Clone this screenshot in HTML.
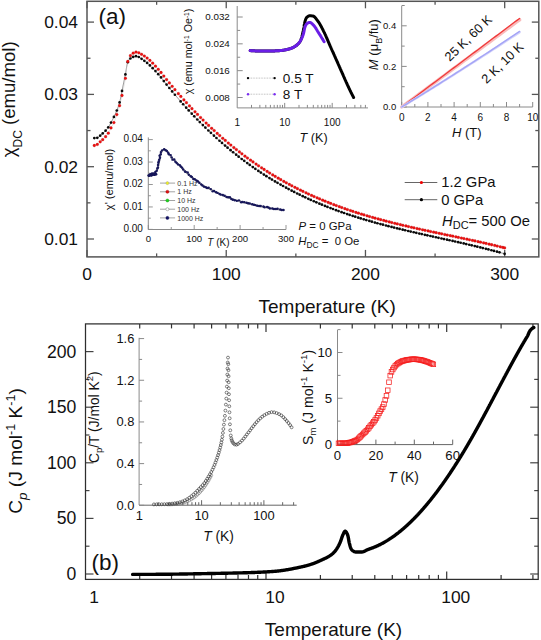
<!DOCTYPE html>
<html><head><meta charset="utf-8"><style>
html,body{margin:0;padding:0;background:#fff;}
svg{display:block;}
text{font-family:"Liberation Sans", sans-serif;}
</style></head><body>
<svg width="541" height="640" viewBox="0 0 541 640">
<rect width="541" height="640" fill="#fff"/>
<line x1="87" y1="256.9" x2="87" y2="249.9" stroke="#555" stroke-width="1.3" />
<line x1="87" y1="1.3" x2="87" y2="8.3" stroke="#555" stroke-width="1.3" />
<line x1="156.62" y1="256.9" x2="156.62" y2="253.4" stroke="#555" stroke-width="1.3" />
<line x1="156.62" y1="1.3" x2="156.62" y2="4.8" stroke="#555" stroke-width="1.3" />
<line x1="226.23" y1="256.9" x2="226.23" y2="249.9" stroke="#555" stroke-width="1.3" />
<line x1="226.23" y1="1.3" x2="226.23" y2="8.3" stroke="#555" stroke-width="1.3" />
<line x1="295.85" y1="256.9" x2="295.85" y2="253.4" stroke="#555" stroke-width="1.3" />
<line x1="295.85" y1="1.3" x2="295.85" y2="4.8" stroke="#555" stroke-width="1.3" />
<line x1="365.46" y1="256.9" x2="365.46" y2="249.9" stroke="#555" stroke-width="1.3" />
<line x1="365.46" y1="1.3" x2="365.46" y2="8.3" stroke="#555" stroke-width="1.3" />
<line x1="435.08" y1="256.9" x2="435.08" y2="253.4" stroke="#555" stroke-width="1.3" />
<line x1="435.08" y1="1.3" x2="435.08" y2="4.8" stroke="#555" stroke-width="1.3" />
<line x1="504.69" y1="256.9" x2="504.69" y2="249.9" stroke="#555" stroke-width="1.3" />
<line x1="504.69" y1="1.3" x2="504.69" y2="8.3" stroke="#555" stroke-width="1.3" />
<line x1="87" y1="239" x2="94" y2="239" stroke="#555" stroke-width="1.3" />
<line x1="538.8" y1="239" x2="531.8" y2="239" stroke="#555" stroke-width="1.3" />
<line x1="87" y1="202.85" x2="90.5" y2="202.85" stroke="#555" stroke-width="1.3" />
<line x1="538.8" y1="202.85" x2="535.3" y2="202.85" stroke="#555" stroke-width="1.3" />
<line x1="87" y1="166.7" x2="94" y2="166.7" stroke="#555" stroke-width="1.3" />
<line x1="538.8" y1="166.7" x2="531.8" y2="166.7" stroke="#555" stroke-width="1.3" />
<line x1="87" y1="130.55" x2="90.5" y2="130.55" stroke="#555" stroke-width="1.3" />
<line x1="538.8" y1="130.55" x2="535.3" y2="130.55" stroke="#555" stroke-width="1.3" />
<line x1="87" y1="94.4" x2="94" y2="94.4" stroke="#555" stroke-width="1.3" />
<line x1="538.8" y1="94.4" x2="531.8" y2="94.4" stroke="#555" stroke-width="1.3" />
<line x1="87" y1="58.25" x2="90.5" y2="58.25" stroke="#555" stroke-width="1.3" />
<line x1="538.8" y1="58.25" x2="535.3" y2="58.25" stroke="#555" stroke-width="1.3" />
<line x1="87" y1="22.1" x2="94" y2="22.1" stroke="#555" stroke-width="1.3" />
<line x1="538.8" y1="22.1" x2="531.8" y2="22.1" stroke="#555" stroke-width="1.3" />
<polyline points="94.3,138.1 95.23,138.07 96.11,137.98 96.95,137.85 97.74,137.63 98.48,137.18 99.19,136.59 99.88,135.97 100.56,135.4 101.21,134.82 101.85,134.21 102.49,133.6 103.14,133.01 103.8,132.42 104.46,131.83 105.1,131.22 105.7,130.59 106.28,129.93 106.85,129.25 107.4,128.56 107.92,127.85 108.42,127.13 108.89,126.39 109.34,125.63 109.78,124.87 110.2,124.09 110.62,123.31 111.03,122.53 111.44,121.75 111.85,120.97 112.25,120.19 112.66,119.41 113.06,118.62 113.46,117.83 113.85,117.04 114.24,116.25 114.62,115.45 115,114.66 115.36,113.86 115.72,113.05 116.08,112.25 116.42,111.44 116.75,110.63 117.07,109.81 117.39,108.99 117.7,108.17 118.01,107.34 118.31,106.51 118.6,105.67 118.88,104.84 119.15,104 119.4,103.15 119.64,102.31 119.86,101.46 120.07,100.61 120.27,99.75 120.45,98.89 120.63,98.03 120.8,97.17 120.97,96.3 121.13,95.44 121.29,94.57 121.46,93.7 121.62,92.83 121.79,91.97 121.96,91.1 122.14,90.24 122.31,89.38 122.49,88.52 122.67,87.65 122.85,86.79 123.03,85.93 123.21,85.07 123.38,84.21 123.56,83.34 123.74,82.48 123.92,81.62 124.1,80.76 124.28,79.89 124.46,79.03 124.63,78.17 124.81,77.31 124.99,76.44 125.16,75.58 125.34,74.72 125.51,73.85 125.66,72.98 125.81,72.09 125.95,71.2 126.09,70.31 126.22,69.42 126.36,68.53 126.5,67.64 126.65,66.76 126.82,65.9 127,65.04 127.2,64.2 127.42,63.38 127.67,62.58 127.96,61.8 128.36,60.99 128.85,60.2 129.41,59.46 130.01,58.83 130.64,58.33 131.35,57.85 132.14,57.39 132.99,56.98 133.86,56.62 134.74,56.36 135.59,56.22 136.4,56.22 137.2,56.37 138,56.65 138.8,57.03 139.6,57.49 140.39,58 141.16,58.54 141.92,59.09 142.66,59.63 143.38,60.12 144.08,60.61 144.78,61.11 145.47,61.63 146.16,62.17 146.83,62.71 147.5,63.28 148.17,63.85 148.83,64.43 149.48,65.03 150.13,65.63 150.77,66.25 151.41,66.87 152.04,67.5 152.67,68.13 153.29,68.78 153.91,69.43 154.52,70.08 155.13,70.73 155.73,71.39 156.33,72.06 156.92,72.72 157.52,73.38 158.1,74.05 158.69,74.71 159.27,75.37 159.85,76.03 160.42,76.69 160.98,77.37 161.52,78.06 162.06,78.76 162.59,79.47 163.12,80.17 163.65,80.88 164.19,81.58 164.74,82.27 165.28,82.96 165.83,83.65 166.38,84.33 166.93,85.02 167.48,85.71 168.04,86.39 168.59,87.08 169.15,87.76 169.7,88.44 170.26,89.12 170.82,89.8 171.38,90.48 171.94,91.16 172.5,91.84 173.06,92.52 173.63,93.19 174.19,93.87 174.76,94.54 175.33,95.21 175.9,95.88 176.47,96.56 177.04,97.23 177.61,97.89 178.19,98.56 178.76,99.23 179.34,99.89 179.91,100.56 180.49,101.22 181.07,101.89 181.65,102.55 182.23,103.21 182.82,103.87 183.4,104.53 183.99,105.18 184.57,105.84 185.16,106.5 185.75,107.15 186.34,107.8 186.93,108.45 187.53,109.11 188.12,109.76 188.72,110.4 189.31,111.05 189.91,111.7 190.51,112.34 191.11,112.99 191.71,113.63 192.31,114.27 192.92,114.91 193.52,115.55 194.13,116.19 194.74,116.83 195.35,117.46 195.96,118.1 196.57,118.73 197.18,119.36 197.8,119.99 198.41,120.62 199.03,121.25 199.64,121.88 200.26,122.51 200.88,123.13 201.51,123.75 202.13,124.38 202.75,125 203.38,125.62 204.01,126.24 204.63,126.85 205.26,127.47 205.89,128.08 206.52,128.7 207.16,129.31 207.79,129.92 208.43,130.53 209.06,131.14 209.7,131.74 210.34,132.35 210.98,132.95 211.63,133.55 212.27,134.15 212.91,134.75 213.56,135.35 214.21,135.95 214.86,136.54 215.51,137.14 216.16,137.73 216.81,138.32 217.46,138.91 218.12,139.5 218.78,140.09 219.43,140.67 220.09,141.25 220.75,141.84 221.42,142.42 222.08,143 222.74,143.57 223.41,144.15 224.08,144.73 224.74,145.3 225.41,145.87 226.08,146.44 226.76,147.01 227.43,147.58 228.1,148.14 228.78,148.71 229.46,149.27 230.14,149.83 230.82,150.39 231.5,150.94 232.18,151.5 232.87,152.06 233.55,152.61 234.24,153.16 234.93,153.71 235.62,154.26 236.31,154.8 237,155.35 237.69,155.89 238.39,156.43 239.08,156.97 239.78,157.51 240.48,158.04 241.18,158.58 241.88,159.11 242.58,159.64 243.28,160.17 243.99,160.7 244.69,161.22 245.4,161.75 246.11,162.27 246.82,162.79 247.53,163.31 248.24,163.83 248.96,164.34 249.67,164.86 250.39,165.37 251.11,165.88 251.83,166.39 252.55,166.89 253.27,167.4 253.99,167.9 254.71,168.4 255.44,168.9 256.17,169.4 256.89,169.89 257.62,170.39 258.35,170.88 259.08,171.37 259.82,171.86 260.55,172.34 261.29,172.83 262.02,173.31 262.76,173.79 263.5,174.27 264.24,174.75 264.98,175.22 265.72,175.7 266.47,176.17 267.21,176.64 267.96,177.11 268.7,177.57 269.45,178.04 270.2,178.5 270.95,178.96 271.7,179.42 272.46,179.87 273.21,180.33 273.97,180.78 274.72,181.23 275.48,181.68 276.24,182.12 277,182.57 277.76,183.01 278.52,183.45 279.29,183.89 280.05,184.33 280.82,184.76 281.58,185.2 282.35,185.63 283.12,186.06 283.89,186.48 284.66,186.91 285.43,187.33 286.21,187.75 286.98,188.17 287.75,188.59 288.53,189.01 289.31,189.42 290.09,189.83 290.87,190.24 291.65,190.65 292.43,191.05 293.21,191.46 293.99,191.86 294.78,192.26 295.56,192.66 296.35,193.05 297.14,193.45 297.93,193.84 298.72,194.23 299.51,194.62 300.3,195 301.09,195.39 301.88,195.77 302.68,196.15 303.47,196.53 304.27,196.9 305.06,197.28 305.86,197.65 306.66,198.02 307.46,198.39 308.26,198.76 309.06,199.12 309.86,199.48 310.67,199.85 311.47,200.2 312.27,200.56 313.08,200.92 313.89,201.27 314.69,201.62 315.5,201.97 316.31,202.32 317.12,202.67 317.93,203.01 318.74,203.35 319.55,203.69 320.37,204.03 321.18,204.37 321.99,204.7 322.81,205.04 323.63,205.37 324.44,205.7 325.26,206.02 326.08,206.35 326.9,206.67 327.72,206.99 328.54,207.31 329.36,207.63 330.18,207.95 331,208.26 331.82,208.58 332.65,208.89 333.47,209.2 334.3,209.51 335.12,209.81 335.95,210.12 336.77,210.42 337.6,210.72 338.43,211.02 339.26,211.32 340.09,211.61 340.92,211.91 341.75,212.2 342.58,212.49 343.41,212.78 344.24,213.07 345.07,213.36 345.91,213.64 346.74,213.92 347.58,214.2 348.41,214.48 349.25,214.76 350.08,215.04 350.92,215.31 351.76,215.59 352.59,215.86 353.43,216.13 354.27,216.4 355.11,216.67 355.95,216.93 356.79,217.2 357.63,217.46 358.47,217.72 359.31,217.98 360.15,218.24 360.99,218.5 361.83,218.75 362.68,219.01 363.52,219.26 364.36,219.51 365.21,219.76 366.05,220.01 366.9,220.26 367.74,220.51 368.59,220.75 369.43,221 370.28,221.24 371.13,221.48 371.97,221.72 372.82,221.96 373.67,222.2 374.52,222.43 375.37,222.67 376.21,222.9 377.06,223.14 377.91,223.37 378.76,223.6 379.61,223.83 380.46,224.06 381.31,224.29 382.16,224.51 383.02,224.74 383.87,224.96 384.72,225.19 385.57,225.41 386.42,225.63 387.28,225.85 388.13,226.07 388.98,226.29 389.83,226.5 390.69,226.72 391.54,226.94 392.39,227.15 393.25,227.36 394.1,227.58 394.96,227.79 395.81,228 396.67,228.21 397.52,228.42 398.38,228.63 399.23,228.84 400.09,229.05 400.94,229.25 401.8,229.46 402.66,229.66 403.51,229.87 404.37,230.07 405.23,230.28 406.08,230.48 406.94,230.68 407.8,230.88 408.65,231.08 409.51,231.28 410.37,231.48 411.23,231.68 412.08,231.88 412.94,232.08 413.8,232.27 414.66,232.47 415.52,232.67 416.38,232.86 417.23,233.06 418.09,233.25 418.95,233.45 419.81,233.64 420.67,233.84 421.53,234.03 422.39,234.23 423.25,234.42 424.1,234.61 424.96,234.8 425.82,235 426.68,235.19 427.54,235.38 428.4,235.57 429.26,235.76 430.12,235.95 430.98,236.15 431.84,236.34 432.7,236.53 433.56,236.72 434.42,236.91 435.28,237.1 436.14,237.29 437,237.48 437.85,237.67 438.71,237.86 439.57,238.05 440.43,238.24 441.29,238.43 442.15,238.62 443.01,238.81 443.87,239 444.73,239.19 445.59,239.39 446.45,239.58 447.31,239.77 448.17,239.96 449.03,240.15 449.89,240.34 450.75,240.53 451.61,240.73 452.47,240.92 453.32,241.11 454.18,241.3 455.04,241.5 455.9,241.69 456.76,241.89 457.62,242.08 458.48,242.27 459.34,242.47 460.19,242.66 461.05,242.86 461.91,243.06 462.77,243.25 463.63,243.45 464.49,243.65 465.34,243.85 466.2,244.05 467.06,244.25 467.92,244.45 468.77,244.65 469.63,244.85 470.49,245.05 471.34,245.25 472.2,245.45 473.06,245.66 473.91,245.86 474.77,246.07 475.63,246.27 476.48,246.48 477.34,246.69 478.19,246.89 479.05,247.1 479.9,247.31 480.76,247.52 481.61,247.73 482.47,247.94 483.32,248.16 484.18,248.37 485.03,248.58 485.88,248.8 486.74,249.02 487.59,249.23 488.44,249.45 489.3,249.67 490.15,249.89 491,250.11 491.85,250.33 492.71,250.56 493.56,250.78 494.41,251 495.26,251.23 496.11,251.46 496.96,251.69 497.81,251.91 498.66,252.15 499.51,252.38 500.36,252.61 501.21,252.84 502.06,253.08 502.9,253.31 503.75,253.55 504.6,253.79" fill="none" stroke="#555" stroke-width="0.65" stroke-linejoin="round" stroke-linecap="round" />
<polyline points="94.3,145.5 95.21,145.3 96.07,145.01 96.89,144.66 97.64,144.26 98.32,143.72 98.96,143.08 99.59,142.4 100.24,141.77 100.92,141.19 101.62,140.62 102.3,140.05 102.96,139.45 103.61,138.82 104.24,138.19 104.86,137.53 105.45,136.87 106.04,136.19 106.61,135.5 107.18,134.8 107.71,134.08 108.21,133.34 108.67,132.58 109.09,131.8 109.49,131 109.88,130.19 110.27,129.37 110.66,128.56 111.08,127.77 111.51,126.99 111.96,126.21 112.41,125.43 112.86,124.65 113.28,123.87 113.68,123.07 114.05,122.26 114.39,121.44 114.72,120.61 115.03,119.77 115.33,118.92 115.63,118.07 115.92,117.22 116.2,116.37 116.49,115.52 116.78,114.68 117.07,113.83 117.35,112.98 117.64,112.13 117.92,111.28 118.19,110.43 118.46,109.57 118.73,108.72 118.98,107.86 119.23,107 119.47,106.14 119.7,105.28 119.93,104.41 120.15,103.54 120.36,102.67 120.57,101.8 120.78,100.93 120.98,100.06 121.18,99.19 121.38,98.31 121.58,97.44 121.77,96.56 121.96,95.69 122.15,94.81 122.34,93.94 122.53,93.06 122.71,92.19 122.9,91.31 123.09,90.44 123.27,89.56 123.45,88.68 123.63,87.8 123.81,86.93 123.98,86.05 124.15,85.17 124.32,84.29 124.49,83.41 124.66,82.53 124.82,81.65 124.98,80.77 125.13,79.89 125.28,79.01 125.43,78.12 125.57,77.24 125.69,76.35 125.81,75.46 125.93,74.56 126.03,73.66 126.14,72.76 126.24,71.86 126.34,70.96 126.44,70.06 126.54,69.17 126.65,68.27 126.76,67.38 126.88,66.49 127.01,65.61 127.15,64.73 127.3,63.86 127.47,63 127.65,62.14 127.85,61.29 128.09,60.43 128.39,59.54 128.73,58.66 129.11,57.8 129.53,57 129.99,56.26 130.47,55.61 131.04,54.97 131.71,54.32 132.47,53.68 133.27,53.1 134.11,52.62 134.95,52.28 135.77,52.11 136.56,52.14 137.38,52.3 138.21,52.57 139.06,52.93 139.91,53.35 140.75,53.82 141.57,54.31 142.37,54.79 143.13,55.26 143.86,55.71 144.59,56.18 145.3,56.67 146.01,57.18 146.71,57.72 147.4,58.27 148.09,58.83 148.76,59.42 149.43,60.02 150.09,60.63 150.75,61.25 151.4,61.89 152.04,62.53 152.68,63.18 153.32,63.85 153.94,64.51 154.57,65.19 155.18,65.86 155.8,66.54 156.41,67.23 157.01,67.91 157.61,68.59 158.21,69.27 158.81,69.95 159.4,70.62 159.99,71.29 160.57,71.96 161.14,72.65 161.69,73.36 162.24,74.07 162.78,74.78 163.33,75.5 163.87,76.21 164.43,76.91 164.99,77.61 165.55,78.31 166.11,79.01 166.67,79.7 167.24,80.4 167.8,81.09 168.37,81.78 168.94,82.48 169.5,83.17 170.07,83.86 170.64,84.55 171.22,85.24 171.79,85.93 172.36,86.61 172.94,87.3 173.52,87.98 174.09,88.67 174.67,89.35 175.25,90.03 175.83,90.71 176.42,91.39 177,92.07 177.58,92.75 178.17,93.43 178.76,94.1 179.35,94.78 179.93,95.45 180.53,96.12 181.12,96.79 181.71,97.46 182.3,98.13 182.9,98.8 183.5,99.47 184.09,100.14 184.69,100.8 185.29,101.47 185.9,102.13 186.5,102.79 187.1,103.45 187.71,104.11 188.31,104.77 188.92,105.43 189.53,106.08 190.14,106.74 190.75,107.39 191.37,108.04 191.98,108.7 192.59,109.35 193.21,109.99 193.83,110.64 194.45,111.29 195.07,111.94 195.69,112.58 196.31,113.22 196.94,113.86 197.56,114.51 198.19,115.14 198.81,115.78 199.44,116.42 200.07,117.06 200.71,117.69 201.34,118.32 201.97,118.95 202.61,119.59 203.24,120.21 203.88,120.84 204.52,121.47 205.16,122.09 205.8,122.72 206.45,123.34 207.09,123.96 207.74,124.58 208.38,125.2 209.03,125.82 209.68,126.43 210.33,127.05 210.99,127.66 211.64,128.27 212.29,128.88 212.95,129.49 213.61,130.1 214.27,130.71 214.93,131.31 215.59,131.92 216.25,132.52 216.91,133.12 217.58,133.72 218.25,134.31 218.91,134.91 219.58,135.51 220.25,136.1 220.93,136.69 221.6,137.28 222.27,137.87 222.95,138.46 223.63,139.04 224.3,139.63 224.98,140.21 225.67,140.79 226.35,141.37 227.03,141.95 227.72,142.52 228.4,143.1 229.09,143.67 229.78,144.24 230.47,144.81 231.16,145.38 231.85,145.95 232.55,146.51 233.24,147.08 233.94,147.64 234.64,148.2 235.34,148.76 236.04,149.31 236.74,149.87 237.45,150.42 238.15,150.97 238.86,151.52 239.56,152.07 240.27,152.62 240.98,153.16 241.69,153.71 242.41,154.25 243.12,154.79 243.84,155.33 244.55,155.87 245.27,156.4 245.99,156.93 246.71,157.46 247.43,157.99 248.15,158.52 248.88,159.05 249.6,159.57 250.33,160.1 251.06,160.62 251.79,161.14 252.52,161.65 253.25,162.17 253.98,162.68 254.72,163.19 255.45,163.7 256.19,164.21 256.93,164.72 257.67,165.22 258.41,165.72 259.15,166.23 259.89,166.72 260.64,167.22 261.39,167.72 262.13,168.21 262.88,168.7 263.63,169.19 264.38,169.68 265.13,170.16 265.89,170.65 266.64,171.13 267.4,171.61 268.15,172.09 268.91,172.56 269.67,173.04 270.43,173.51 271.19,173.98 271.95,174.45 272.72,174.92 273.48,175.38 274.25,175.84 275.02,176.31 275.79,176.76 276.56,177.22 277.33,177.68 278.1,178.13 278.87,178.58 279.65,179.03 280.42,179.48 281.2,179.92 281.98,180.37 282.75,180.81 283.53,181.25 284.32,181.68 285.1,182.12 285.88,182.55 286.67,182.98 287.45,183.41 288.24,183.84 289.02,184.27 289.81,184.69 290.6,185.11 291.39,185.53 292.19,185.95 292.98,186.36 293.77,186.78 294.57,187.19 295.36,187.6 296.16,188.01 296.96,188.41 297.76,188.82 298.56,189.22 299.36,189.62 300.16,190.02 300.96,190.41 301.77,190.8 302.57,191.2 303.38,191.59 304.18,191.97 304.99,192.36 305.8,192.74 306.61,193.13 307.42,193.51 308.23,193.88 309.05,194.26 309.86,194.63 310.67,195.01 311.49,195.38 312.3,195.75 313.12,196.11 313.94,196.48 314.76,196.84 315.58,197.2 316.4,197.56 317.22,197.91 318.04,198.27 318.86,198.62 319.69,198.97 320.51,199.32 321.34,199.67 322.16,200.01 322.99,200.36 323.82,200.7 324.64,201.04 325.47,201.37 326.3,201.71 327.13,202.04 327.96,202.38 328.8,202.71 329.63,203.03 330.46,203.36 331.3,203.69 332.13,204.01 332.97,204.33 333.8,204.65 334.64,204.97 335.48,205.28 336.32,205.6 337.16,205.91 338,206.22 338.84,206.53 339.68,206.83 340.52,207.14 341.36,207.44 342.2,207.74 343.05,208.04 343.89,208.34 344.74,208.64 345.58,208.93 346.43,209.22 347.28,209.51 348.12,209.8 348.97,210.09 349.82,210.38 350.67,210.66 351.52,210.95 352.37,211.23 353.22,211.51 354.07,211.78 354.92,212.06 355.77,212.34 356.62,212.61 357.48,212.88 358.33,213.15 359.18,213.42 360.04,213.69 360.89,213.95 361.75,214.22 362.6,214.48 363.46,214.74 364.32,215 365.17,215.26 366.03,215.51 366.89,215.77 367.75,216.02 368.61,216.28 369.47,216.53 370.33,216.78 371.19,217.02 372.05,217.27 372.91,217.52 373.77,217.76 374.63,218 375.49,218.25 376.35,218.49 377.22,218.72 378.08,218.96 378.94,219.2 379.81,219.43 380.67,219.67 381.54,219.9 382.4,220.13 383.27,220.36 384.13,220.59 385,220.82 385.86,221.05 386.73,221.27 387.6,221.5 388.46,221.72 389.33,221.94 390.2,222.17 391.06,222.39 391.93,222.6 392.8,222.82 393.67,223.04 394.54,223.26 395.41,223.47 396.28,223.69 397.14,223.9 398.01,224.11 398.88,224.32 399.75,224.53 400.62,224.74 401.5,224.95 402.37,225.16 403.24,225.37 404.11,225.57 404.98,225.78 405.85,225.98 406.72,226.19 407.59,226.39 408.47,226.59 409.34,226.79 410.21,226.99 411.08,227.19 411.96,227.39 412.83,227.59 413.7,227.79 414.58,227.99 415.45,228.18 416.32,228.38 417.2,228.58 418.07,228.77 418.94,228.96 419.82,229.16 420.69,229.35 421.57,229.54 422.44,229.74 423.31,229.93 424.19,230.12 425.06,230.31 425.94,230.5 426.81,230.69 427.69,230.88 428.56,231.07 429.44,231.26 430.31,231.45 431.19,231.63 432.06,231.82 432.94,232.01 433.81,232.2 434.69,232.38 435.57,232.57 436.44,232.76 437.32,232.94 438.19,233.13 439.07,233.31 439.94,233.5 440.82,233.68 441.7,233.87 442.57,234.05 443.45,234.24 444.32,234.42 445.2,234.61 446.07,234.79 446.95,234.98 447.83,235.16 448.7,235.35 449.58,235.53 450.45,235.72 451.33,235.9 452.21,236.09 453.08,236.27 453.96,236.46 454.83,236.64 455.71,236.83 456.59,237.01 457.46,237.2 458.34,237.38 459.21,237.57 460.09,237.76 460.96,237.94 461.84,238.13 462.71,238.31 463.59,238.5 464.47,238.69 465.34,238.88 466.22,239.06 467.09,239.25 467.97,239.44 468.84,239.63 469.72,239.82 470.59,240.01 471.47,240.2 472.34,240.39 473.22,240.58 474.09,240.77 474.96,240.96 475.84,241.16 476.71,241.35 477.59,241.54 478.46,241.74 479.33,241.93 480.21,242.13 481.08,242.32 481.95,242.52 482.83,242.72 483.7,242.91 484.57,243.11 485.45,243.31 486.32,243.51 487.19,243.71 488.06,243.91 488.94,244.12 489.81,244.32 490.68,244.52 491.55,244.73 492.42,244.93 493.29,245.14 494.16,245.34 495.04,245.55 495.91,245.76 496.78,245.97 497.65,246.18 498.52,246.39 499.39,246.6 500.26,246.81 501.13,247.03 501.99,247.24 502.86,247.46 503.73,247.68 504.6,247.89" fill="none" stroke="#c8c8c8" stroke-width="0.5" stroke-linejoin="round" stroke-linecap="round" />
<g fill="#0a0a0a"><circle cx="94.3" cy="138.1" r="1.35"/><circle cx="97.3" cy="137.78" r="1.35"/><circle cx="100.2" cy="135.7" r="1.35"/><circle cx="102.7" cy="133.41" r="1.35"/><circle cx="105.6" cy="130.7" r="1.35"/><circle cx="108.3" cy="127.3" r="1.35"/><circle cx="111" cy="122.59" r="1.35"/><circle cx="113.9" cy="116.94" r="1.35"/><circle cx="116.8" cy="110.5" r="1.35"/><circle cx="119.6" cy="102.45" r="1.35"/><circle cx="122" cy="90.9" r="1.35"/><circle cx="125.4" cy="74.4" r="1.35"/><circle cx="127.8" cy="62.2" r="1.35"/><circle cx="130.4" cy="58.5" r="1.35"/><circle cx="133.2" cy="56.88" r="1.35"/><circle cx="136" cy="56.2" r="1.35"/><circle cx="138.78" cy="57.02" r="1.35"/><circle cx="141.56" cy="58.83" r="1.35"/><circle cx="144.34" cy="60.79" r="1.35"/><circle cx="147.12" cy="62.95" r="1.35"/><circle cx="149.9" cy="65.42" r="1.35"/><circle cx="152.68" cy="68.15" r="1.35"/><circle cx="155.46" cy="71.1" r="1.35"/><circle cx="158.24" cy="74.2" r="1.35"/><circle cx="161.02" cy="77.43" r="1.35"/><circle cx="163.8" cy="81.07" r="1.35"/><circle cx="166.58" cy="84.58" r="1.35"/><circle cx="169.36" cy="88.02" r="1.35"/><circle cx="172.14" cy="91.4" r="1.35"/><circle cx="174.92" cy="94.73" r="1.35"/><circle cx="180.65" cy="101.4" r="1.35"/><circle cx="183.15" cy="104.24" r="1.35"/><circle cx="186.2" cy="107.65" r="1.35"/><circle cx="188.7" cy="110.39" r="1.35"/><circle cx="191.75" cy="113.67" r="1.35"/><circle cx="194.25" cy="116.32" r="1.35"/><circle cx="197.3" cy="119.49" r="1.35"/><circle cx="199.8" cy="122.04" r="1.35"/><circle cx="202.85" cy="125.09" r="1.35"/><circle cx="205.35" cy="127.55" r="1.35"/><circle cx="208.4" cy="130.5" r="1.35"/><circle cx="210.9" cy="132.87" r="1.35"/><circle cx="213.95" cy="135.71" r="1.35"/><circle cx="216.45" cy="138" r="1.35"/><circle cx="219.5" cy="140.73" r="1.35"/><circle cx="222" cy="142.93" r="1.35"/><circle cx="225.05" cy="145.56" r="1.35"/><circle cx="227.55" cy="147.68" r="1.35"/><circle cx="230.6" cy="150.21" r="1.35"/><circle cx="233.1" cy="152.24" r="1.35"/><circle cx="236.15" cy="154.68" r="1.35"/><circle cx="238.65" cy="156.64" r="1.35"/><circle cx="241.7" cy="158.98" r="1.35"/><circle cx="244.2" cy="160.86" r="1.35"/><circle cx="247.25" cy="163.11" r="1.35"/><circle cx="249.75" cy="164.91" r="1.35"/><circle cx="252.8" cy="167.07" r="1.35"/><circle cx="255.3" cy="168.81" r="1.35"/><circle cx="258.35" cy="170.88" r="1.35"/><circle cx="260.85" cy="172.54" r="1.35"/><circle cx="263.9" cy="174.53" r="1.35"/><circle cx="266.4" cy="176.13" r="1.35"/><circle cx="269.45" cy="178.03" r="1.35"/><circle cx="271.95" cy="179.56" r="1.35"/><circle cx="275" cy="181.39" r="1.35"/><circle cx="277.5" cy="182.86" r="1.35"/><circle cx="280.55" cy="184.61" r="1.35"/><circle cx="283.05" cy="186.02" r="1.35"/><circle cx="286.1" cy="187.7" r="1.35"/><circle cx="288.6" cy="189.04" r="1.35"/><circle cx="291.65" cy="190.65" r="1.35"/><circle cx="294.15" cy="191.94" r="1.35"/><circle cx="297.2" cy="193.48" r="1.35"/><circle cx="299.7" cy="194.71" r="1.35"/><circle cx="302.75" cy="196.18" r="1.35"/><circle cx="305.25" cy="197.37" r="1.35"/><circle cx="308.3" cy="198.78" r="1.35"/><circle cx="310.8" cy="199.91" r="1.35"/><circle cx="313.85" cy="201.25" r="1.35"/><circle cx="316.35" cy="202.34" r="1.35"/><circle cx="319.4" cy="203.63" r="1.35"/><circle cx="321.9" cy="204.66" r="1.35"/><circle cx="324.95" cy="205.9" r="1.35"/><circle cx="327.45" cy="206.89" r="1.35"/><circle cx="330.5" cy="208.07" r="1.35"/><circle cx="333" cy="209.02" r="1.35"/><circle cx="336.05" cy="210.16" r="1.35"/><circle cx="338.55" cy="211.06" r="1.35"/><circle cx="341.6" cy="212.15" r="1.35"/><circle cx="344.1" cy="213.02" r="1.35"/><circle cx="347.15" cy="214.06" r="1.35"/><circle cx="349.65" cy="214.9" r="1.35"/><circle cx="352.7" cy="215.89" r="1.35"/><circle cx="355.2" cy="216.7" r="1.35"/><circle cx="358.25" cy="217.65" r="1.35"/><circle cx="360.75" cy="218.42" r="1.35"/><circle cx="363.8" cy="219.35" r="1.35"/><circle cx="366.3" cy="220.09" r="1.35"/><circle cx="369.35" cy="220.97" r="1.35"/><circle cx="371.85" cy="221.69" r="1.35"/><circle cx="374.9" cy="222.54" r="1.35"/><circle cx="377.4" cy="223.23" r="1.35"/><circle cx="380.45" cy="224.05" r="1.35"/><circle cx="382.95" cy="224.72" r="1.35"/><circle cx="386" cy="225.52" r="1.35"/><circle cx="388.5" cy="226.16" r="1.35"/><circle cx="391.55" cy="226.94" r="1.35"/><circle cx="394.05" cy="227.56" r="1.35"/><circle cx="397.1" cy="228.32" r="1.35"/><circle cx="399.6" cy="228.93" r="1.35"/><circle cx="402.65" cy="229.66" r="1.35"/><circle cx="405.15" cy="230.26" r="1.35"/><circle cx="408.2" cy="230.98" r="1.35"/><circle cx="410.7" cy="231.56" r="1.35"/><circle cx="413.75" cy="232.26" r="1.35"/><circle cx="416.25" cy="232.84" r="1.35"/><circle cx="419.3" cy="233.53" r="1.35"/><circle cx="421.8" cy="234.09" r="1.35"/><circle cx="424.85" cy="234.78" r="1.35"/><circle cx="427.35" cy="235.34" r="1.35"/><circle cx="430.4" cy="236.02" r="1.35"/><circle cx="432.9" cy="236.57" r="1.35"/><circle cx="435.95" cy="237.25" r="1.35"/><circle cx="438.45" cy="237.8" r="1.35"/><circle cx="441.5" cy="238.48" r="1.35"/><circle cx="444" cy="239.03" r="1.35"/><circle cx="447.05" cy="239.71" r="1.35"/><circle cx="449.55" cy="240.27" r="1.35"/><circle cx="452.6" cy="240.95" r="1.35"/><circle cx="455.1" cy="241.51" r="1.35"/><circle cx="458.15" cy="242.2" r="1.35"/><circle cx="460.65" cy="242.77" r="1.35"/><circle cx="463.7" cy="243.47" r="1.35"/><circle cx="466.2" cy="244.05" r="1.35"/><circle cx="469.25" cy="244.76" r="1.35"/><circle cx="471.75" cy="245.35" r="1.35"/><circle cx="474.8" cy="246.07" r="1.35"/><circle cx="477.3" cy="246.68" r="1.35"/><circle cx="480.35" cy="247.42" r="1.35"/><circle cx="482.85" cy="248.04" r="1.35"/><circle cx="485.9" cy="248.8" r="1.35"/><circle cx="488.4" cy="249.44" r="1.35"/><circle cx="491.45" cy="250.23" r="1.35"/><circle cx="493.95" cy="250.88" r="1.35"/><circle cx="497" cy="251.7" r="1.35"/><circle cx="499.5" cy="252.37" r="1.35"/><circle cx="504.6" cy="253.79" r="1.35"/></g>
<g fill="#f01010" stroke="#a00" stroke-width="0.25"><circle cx="94.3" cy="145.5" r="1.38"/><circle cx="97.3" cy="144.45" r="1.38"/><circle cx="100.2" cy="141.8" r="1.38"/><circle cx="102.7" cy="139.69" r="1.38"/><circle cx="105.6" cy="136.7" r="1.38"/><circle cx="108.3" cy="133.2" r="1.38"/><circle cx="111" cy="127.91" r="1.38"/><circle cx="113.9" cy="122.6" r="1.38"/><circle cx="116.8" cy="114.61" r="1.38"/><circle cx="119.6" cy="105.66" r="1.38"/><circle cx="122" cy="95.5" r="1.38"/><circle cx="125.4" cy="78.3" r="1.38"/><circle cx="127.8" cy="61.5" r="1.38"/><circle cx="130.4" cy="55.7" r="1.38"/><circle cx="133.2" cy="53.15" r="1.38"/><circle cx="136" cy="52.1" r="1.38"/><circle cx="138.78" cy="52.8" r="1.38"/><circle cx="141.56" cy="54.3" r="1.38"/><circle cx="144.34" cy="56.01" r="1.38"/><circle cx="147.12" cy="58.04" r="1.38"/><circle cx="149.9" cy="60.45" r="1.38"/><circle cx="152.68" cy="63.18" r="1.38"/><circle cx="155.46" cy="66.17" r="1.38"/><circle cx="158.24" cy="69.3" r="1.38"/><circle cx="161.02" cy="72.5" r="1.38"/><circle cx="163.8" cy="76.11" r="1.38"/><circle cx="166.58" cy="79.59" r="1.38"/><circle cx="169.36" cy="82.99" r="1.38"/><circle cx="172.14" cy="86.34" r="1.38"/><circle cx="174.92" cy="89.64" r="1.38"/><circle cx="178.35" cy="93.63" r="1.38"/><circle cx="180.85" cy="96.49" r="1.38"/><circle cx="183.9" cy="99.92" r="1.38"/><circle cx="186.4" cy="102.68" r="1.38"/><circle cx="189.45" cy="105.99" r="1.38"/><circle cx="191.95" cy="108.66" r="1.38"/><circle cx="195" cy="111.87" r="1.38"/><circle cx="197.5" cy="114.44" r="1.38"/><circle cx="200.55" cy="117.53" r="1.38"/><circle cx="203.05" cy="120.02" r="1.38"/><circle cx="206.1" cy="123.01" r="1.38"/><circle cx="208.6" cy="125.41" r="1.38"/><circle cx="211.65" cy="128.28" r="1.38"/><circle cx="214.15" cy="130.6" r="1.38"/><circle cx="217.2" cy="133.38" r="1.38"/><circle cx="219.7" cy="135.61" r="1.38"/><circle cx="222.75" cy="138.28" r="1.38"/><circle cx="225.25" cy="140.43" r="1.38"/><circle cx="228.3" cy="143.01" r="1.38"/><circle cx="230.8" cy="145.08" r="1.38"/><circle cx="233.85" cy="147.56" r="1.38"/><circle cx="236.35" cy="149.56" r="1.38"/><circle cx="239.4" cy="151.95" r="1.38"/><circle cx="241.9" cy="153.87" r="1.38"/><circle cx="244.95" cy="156.16" r="1.38"/><circle cx="247.45" cy="158.01" r="1.38"/><circle cx="250.5" cy="160.22" r="1.38"/><circle cx="253" cy="161.99" r="1.38"/><circle cx="256.05" cy="164.11" r="1.38"/><circle cx="258.55" cy="165.82" r="1.38"/><circle cx="261.6" cy="167.86" r="1.38"/><circle cx="264.1" cy="169.5" r="1.38"/><circle cx="267.15" cy="171.45" r="1.38"/><circle cx="269.65" cy="173.03" r="1.38"/><circle cx="272.7" cy="174.91" r="1.38"/><circle cx="275.2" cy="176.42" r="1.38"/><circle cx="278.25" cy="178.22" r="1.38"/><circle cx="280.75" cy="179.67" r="1.38"/><circle cx="283.8" cy="181.4" r="1.38"/><circle cx="286.3" cy="182.78" r="1.38"/><circle cx="289.35" cy="184.44" r="1.38"/><circle cx="291.85" cy="185.77" r="1.38"/><circle cx="294.9" cy="187.36" r="1.38"/><circle cx="297.4" cy="188.64" r="1.38"/><circle cx="300.45" cy="190.16" r="1.38"/><circle cx="302.95" cy="191.38" r="1.38"/><circle cx="306" cy="192.84" r="1.38"/><circle cx="308.5" cy="194.01" r="1.38"/><circle cx="311.55" cy="195.4" r="1.38"/><circle cx="314.05" cy="196.53" r="1.38"/><circle cx="317.1" cy="197.86" r="1.38"/><circle cx="319.6" cy="198.94" r="1.38"/><circle cx="322.65" cy="200.22" r="1.38"/><circle cx="325.15" cy="201.24" r="1.38"/><circle cx="328.2" cy="202.47" r="1.38"/><circle cx="330.7" cy="203.45" r="1.38"/><circle cx="333.75" cy="204.63" r="1.38"/><circle cx="336.25" cy="205.57" r="1.38"/><circle cx="339.3" cy="206.7" r="1.38"/><circle cx="341.8" cy="207.6" r="1.38"/><circle cx="344.85" cy="208.68" r="1.38"/><circle cx="347.35" cy="209.54" r="1.38"/><circle cx="350.4" cy="210.57" r="1.38"/><circle cx="352.9" cy="211.4" r="1.38"/><circle cx="355.95" cy="212.39" r="1.38"/><circle cx="358.45" cy="213.19" r="1.38"/><circle cx="361.5" cy="214.14" r="1.38"/><circle cx="364" cy="214.9" r="1.38"/><circle cx="367.05" cy="215.82" r="1.38"/><circle cx="369.55" cy="216.55" r="1.38"/><circle cx="372.6" cy="217.43" r="1.38"/><circle cx="375.1" cy="218.14" r="1.38"/><circle cx="378.15" cy="218.98" r="1.38"/><circle cx="380.65" cy="219.66" r="1.38"/><circle cx="383.7" cy="220.48" r="1.38"/><circle cx="386.2" cy="221.14" r="1.38"/><circle cx="389.25" cy="221.92" r="1.38"/><circle cx="391.75" cy="222.56" r="1.38"/><circle cx="394.8" cy="223.32" r="1.38"/><circle cx="397.3" cy="223.94" r="1.38"/><circle cx="400.35" cy="224.68" r="1.38"/><circle cx="402.85" cy="225.27" r="1.38"/><circle cx="405.9" cy="225.99" r="1.38"/><circle cx="408.4" cy="226.58" r="1.38"/><circle cx="411.45" cy="227.28" r="1.38"/><circle cx="413.95" cy="227.85" r="1.38"/><circle cx="417" cy="228.53" r="1.38"/><circle cx="419.5" cy="229.09" r="1.38"/><circle cx="422.55" cy="229.76" r="1.38"/><circle cx="425.05" cy="230.31" r="1.38"/><circle cx="428.1" cy="230.97" r="1.38"/><circle cx="430.6" cy="231.51" r="1.38"/><circle cx="433.65" cy="232.16" r="1.38"/><circle cx="436.15" cy="232.69" r="1.38"/><circle cx="439.2" cy="233.34" r="1.38"/><circle cx="441.7" cy="233.87" r="1.38"/><circle cx="444.75" cy="234.51" r="1.38"/><circle cx="447.25" cy="235.04" r="1.38"/><circle cx="450.3" cy="235.69" r="1.38"/><circle cx="452.8" cy="236.21" r="1.38"/><circle cx="455.85" cy="236.86" r="1.38"/><circle cx="458.35" cy="237.39" r="1.38"/><circle cx="461.4" cy="238.03" r="1.38"/><circle cx="463.9" cy="238.57" r="1.38"/><circle cx="466.95" cy="239.22" r="1.38"/><circle cx="469.45" cy="239.76" r="1.38"/><circle cx="472.5" cy="240.43" r="1.38"/><circle cx="475" cy="240.97" r="1.38"/><circle cx="478.05" cy="241.65" r="1.38"/><circle cx="480.55" cy="242.2" r="1.38"/><circle cx="483.6" cy="242.89" r="1.38"/><circle cx="486.1" cy="243.46" r="1.38"/><circle cx="489.15" cy="244.17" r="1.38"/><circle cx="491.65" cy="244.75" r="1.38"/><circle cx="494.7" cy="245.47" r="1.38"/><circle cx="497.2" cy="246.07" r="1.38"/><circle cx="500.25" cy="246.81" r="1.38"/><circle cx="502.75" cy="247.43" r="1.38"/><circle cx="504.6" cy="247.89" r="1.38"/></g>
<rect x="87" y="1.3" width="451.8" height="255.6" fill="none" stroke="#555" stroke-width="1.5"/>
<text x="78" y="244.99" font-size="17.4" text-anchor="end" fill="#111" >0.01</text>
<text x="78" y="172.69" font-size="17.4" text-anchor="end" fill="#111" >0.02</text>
<text x="78" y="100.39" font-size="17.4" text-anchor="end" fill="#111" >0.03</text>
<text x="78" y="28.09" font-size="17.4" text-anchor="end" fill="#111" >0.04</text>
<text x="87" y="280" font-size="17.4" text-anchor="middle" fill="#111" >0</text>
<text x="226.23" y="280" font-size="17.4" text-anchor="middle" fill="#111" >100</text>
<text x="365.46" y="280" font-size="17.4" text-anchor="middle" fill="#111" >200</text>
<text x="504.69" y="280" font-size="17.4" text-anchor="middle" fill="#111" >300</text>
<text x="327.2" y="313.4" font-size="19" text-anchor="middle" fill="#111" >Temperature (K)</text>
<text x="15.2" y="99.3" font-size="18.6" text-anchor="middle" fill="#111" transform="rotate(-90 15.2 99.3)" >&#967;<tspan font-size="12" dy="7.2">DC</tspan><tspan dy="-7.2"> (emu/mol)</tspan></text>
<text x="98.5" y="24.2" font-size="22.5" text-anchor="start" fill="#111" >(a)</text>
<line x1="404.7" y1="182.5" x2="437.3" y2="182.5" stroke="#666" stroke-width="1" />
<circle cx="421.4" cy="182.5" r="1.6" fill="#e00"/>
<text x="441.2" y="187.3" font-size="14.8" text-anchor="start" fill="#111" >1.2 GPa</text>
<line x1="404.7" y1="199.7" x2="437.3" y2="199.7" stroke="#666" stroke-width="1" />
<circle cx="421.4" cy="199.7" r="1.6" fill="#000"/>
<text x="441.2" y="204.5" font-size="14.8" text-anchor="start" fill="#111" >0 GPa</text>
<text x="442" y="225.5" font-size="14.8" text-anchor="start" fill="#111" ><tspan font-style="italic">H</tspan><tspan font-size="11" dy="3.8">DC</tspan><tspan dy="-3.8">= 500 Oe</tspan></text>
<text x="298.6" y="230" font-size="11.4" text-anchor="start" fill="#111" ><tspan font-style="italic">P</tspan> = 0 GPa</text>
<text x="298.2" y="244.7" font-size="11.4" text-anchor="start" fill="#111" ><tspan font-style="italic">H</tspan><tspan font-size="8.4" dy="3.1">DC</tspan><tspan dy="-3.1" xml:space="preserve"> =  0 Oe</tspan></text>
<line x1="237.2" y1="6" x2="237.2" y2="107.9" stroke="#8a8a8a" stroke-width="1" />
<line x1="237.2" y1="107.9" x2="368" y2="107.9" stroke="#8a8a8a" stroke-width="1" />
<line x1="237.2" y1="97.49" x2="242.7" y2="97.49" stroke="#8a8a8a" stroke-width="1" />
<line x1="237.2" y1="84.07" x2="240.2" y2="84.07" stroke="#8a8a8a" stroke-width="1" />
<line x1="237.2" y1="70.66" x2="242.7" y2="70.66" stroke="#8a8a8a" stroke-width="1" />
<line x1="237.2" y1="57.24" x2="240.2" y2="57.24" stroke="#8a8a8a" stroke-width="1" />
<line x1="237.2" y1="43.83" x2="242.7" y2="43.83" stroke="#8a8a8a" stroke-width="1" />
<line x1="237.2" y1="30.41" x2="240.2" y2="30.41" stroke="#8a8a8a" stroke-width="1" />
<line x1="237.2" y1="17" x2="242.7" y2="17" stroke="#8a8a8a" stroke-width="1" />
<line x1="251.5" y1="107.9" x2="251.5" y2="104.9" stroke="#8a8a8a" stroke-width="1" />
<line x1="259.86" y1="107.9" x2="259.86" y2="104.9" stroke="#8a8a8a" stroke-width="1" />
<line x1="265.8" y1="107.9" x2="265.8" y2="104.9" stroke="#8a8a8a" stroke-width="1" />
<line x1="270.4" y1="107.9" x2="270.4" y2="104.9" stroke="#8a8a8a" stroke-width="1" />
<line x1="274.16" y1="107.9" x2="274.16" y2="104.9" stroke="#8a8a8a" stroke-width="1" />
<line x1="277.34" y1="107.9" x2="277.34" y2="104.9" stroke="#8a8a8a" stroke-width="1" />
<line x1="280.1" y1="107.9" x2="280.1" y2="104.9" stroke="#8a8a8a" stroke-width="1" />
<line x1="282.53" y1="107.9" x2="282.53" y2="104.9" stroke="#8a8a8a" stroke-width="1" />
<line x1="284.7" y1="107.9" x2="284.7" y2="102.9" stroke="#8a8a8a" stroke-width="1" />
<line x1="299" y1="107.9" x2="299" y2="104.9" stroke="#8a8a8a" stroke-width="1" />
<line x1="307.36" y1="107.9" x2="307.36" y2="104.9" stroke="#8a8a8a" stroke-width="1" />
<line x1="313.3" y1="107.9" x2="313.3" y2="104.9" stroke="#8a8a8a" stroke-width="1" />
<line x1="317.9" y1="107.9" x2="317.9" y2="104.9" stroke="#8a8a8a" stroke-width="1" />
<line x1="321.66" y1="107.9" x2="321.66" y2="104.9" stroke="#8a8a8a" stroke-width="1" />
<line x1="324.84" y1="107.9" x2="324.84" y2="104.9" stroke="#8a8a8a" stroke-width="1" />
<line x1="327.6" y1="107.9" x2="327.6" y2="104.9" stroke="#8a8a8a" stroke-width="1" />
<line x1="330.03" y1="107.9" x2="330.03" y2="104.9" stroke="#8a8a8a" stroke-width="1" />
<line x1="332.2" y1="107.9" x2="332.2" y2="102.9" stroke="#8a8a8a" stroke-width="1" />
<line x1="346.5" y1="107.9" x2="346.5" y2="104.9" stroke="#8a8a8a" stroke-width="1" />
<line x1="354.86" y1="107.9" x2="354.86" y2="104.9" stroke="#8a8a8a" stroke-width="1" />
<line x1="360.8" y1="107.9" x2="360.8" y2="104.9" stroke="#8a8a8a" stroke-width="1" />
<line x1="365.4" y1="107.9" x2="365.4" y2="104.9" stroke="#8a8a8a" stroke-width="1" />
<text x="229.8" y="20.37" font-size="9.8" text-anchor="end" fill="#111" >0.032</text>
<text x="229.8" y="47.2" font-size="9.8" text-anchor="end" fill="#111" >0.024</text>
<text x="229.8" y="74.03" font-size="9.8" text-anchor="end" fill="#111" >0.016</text>
<text x="229.8" y="100.86" font-size="9.8" text-anchor="end" fill="#111" >0.008</text>
<text x="237.2" y="126.04" font-size="10" text-anchor="middle" fill="#111" >1</text>
<text x="284.7" y="126.04" font-size="10" text-anchor="middle" fill="#111" >10</text>
<text x="332.2" y="126.04" font-size="10" text-anchor="middle" fill="#111" >100</text>
<text x="313.6" y="142.4" font-size="12.6" text-anchor="middle" fill="#111" ><tspan font-style="italic">T</tspan> (K)</text>
<text x="192" y="51.5" font-size="10.7" text-anchor="middle" fill="#111" transform="rotate(-90 192 51.5)" >&#967; (emu mol<tspan font-size="6.5" dy="-3.5">-1</tspan><tspan dy="3.5"> Oe</tspan><tspan font-size="6.5" dy="-3.5">-1</tspan><tspan dy="3.5">)</tspan></text>
<polyline points="250.2,50.6 250.55,50.62 250.9,50.64 251.25,50.66 251.61,50.69 251.96,50.71 252.31,50.73 252.66,50.75 253.01,50.77 253.36,50.79 253.72,50.81 254.07,50.82 254.42,50.84 254.77,50.86 255.12,50.88 255.47,50.89 255.83,50.91 256.18,50.92 256.53,50.93 256.88,50.95 257.23,50.96 257.59,50.97 257.94,50.98 258.29,50.98 258.64,50.99 258.99,50.99 259.34,51 259.7,51 260.05,51 260.4,51 260.75,51 261.1,51 261.46,51 261.81,51 262.16,51 262.51,51 262.86,51 263.22,51 263.57,51 263.92,51 264.27,51 264.62,51 264.98,51 265.33,51 265.68,51 266.03,51 266.38,51 266.74,51 267.09,51 267.44,51 267.79,51 268.14,51 268.5,51 268.85,51 269.2,51 269.55,51 269.9,51 270.26,51 270.61,51 270.96,51 271.31,50.99 271.66,50.99 272.02,50.98 272.37,50.97 272.72,50.96 273.08,50.95 273.43,50.94 273.78,50.93 274.13,50.92 274.49,50.9 274.84,50.89 275.19,50.87 275.54,50.86 275.89,50.84 276.25,50.82 276.6,50.81 276.95,50.79 277.3,50.77 277.65,50.75 278,50.73 278.35,50.7 278.7,50.68 279.05,50.66 279.4,50.64 279.75,50.62 280.1,50.59 280.45,50.57 280.8,50.54 281.15,50.5 281.5,50.47 281.86,50.43 282.21,50.38 282.56,50.34 282.91,50.29 283.26,50.23 283.61,50.18 283.96,50.12 284.31,50.06 284.66,50 285.01,49.93 285.36,49.86 285.71,49.79 286.06,49.72 286.4,49.64 286.75,49.56 287.09,49.49 287.43,49.4 287.77,49.32 288.11,49.24 288.45,49.15 288.79,49.06 289.12,48.98 289.45,48.89 289.78,48.79 290.12,48.69 290.45,48.58 290.79,48.46 291.12,48.33 291.46,48.2 291.79,48.07 292.12,47.92 292.45,47.78 292.78,47.62 293.1,47.46 293.42,47.3 293.74,47.13 294.05,46.96 294.36,46.79 294.66,46.61 294.95,46.43 295.24,46.24 295.52,46.05 295.8,45.86 296.07,45.66 296.35,45.45 296.63,45.23 296.91,45 297.19,44.77 297.46,44.52 297.73,44.27 298,44.02 298.26,43.75 298.51,43.49 298.76,43.21 299,42.94 299.23,42.66 299.44,42.38 299.65,42.09 299.84,41.8 300.02,41.51 300.18,41.23 300.33,40.94 300.47,40.64 300.61,40.34 300.74,40.04 300.86,39.73 300.99,39.41 301.11,39.09 301.22,38.77 301.33,38.44 301.44,38.11 301.55,37.77 301.65,37.43 301.75,37.09 301.84,36.74 301.94,36.4 302.03,36.05 302.12,35.7 302.21,35.34 302.29,34.99 302.38,34.64 302.46,34.28 302.54,33.93 302.62,33.57 302.7,33.22 302.78,32.87 302.86,32.51 302.94,32.16 303.02,31.81 303.09,31.47 303.17,31.12 303.25,30.78 303.32,30.44 303.39,30.09 303.46,29.75 303.53,29.4 303.59,29.05 303.65,28.7 303.71,28.36 303.77,28.01 303.83,27.66 303.88,27.31 303.94,26.96 303.99,26.61 304.05,26.26 304.1,25.91 304.16,25.56 304.22,25.21 304.28,24.86 304.34,24.51 304.4,24.17 304.47,23.82 304.53,23.48 304.61,23.13 304.68,22.79 304.76,22.45 304.84,22.11 304.93,21.78 305.02,21.44 305.11,21.1 305.21,20.75 305.32,20.39 305.43,20.03 305.55,19.68 305.68,19.33 305.82,18.99 305.96,18.66 306.12,18.35 306.28,18.06 306.45,17.79 306.64,17.56 306.85,17.32 307.1,17.08 307.38,16.84 307.68,16.61 308.01,16.39 308.34,16.2 308.68,16.03 309.03,15.91 309.37,15.83 309.7,15.8 310.04,15.8 310.4,15.81 310.76,15.83 311.13,15.85 311.5,15.87 311.86,15.9 312.21,15.93 312.55,15.97 312.86,16.01 313.15,16.07 313.44,16.18 313.72,16.32 314,16.49 314.28,16.69 314.54,16.91 314.81,17.16 315.06,17.43 315.32,17.71 315.57,18.01 315.81,18.32 316.05,18.63 316.28,18.94 316.51,19.26 316.74,19.57 316.96,19.88 317.18,20.18 317.39,20.46 317.61,20.74 317.81,21.01 318.02,21.29 318.22,21.56 318.42,21.85 318.61,22.13 318.81,22.42 319,22.71 319.19,23.01 319.38,23.3 319.56,23.6 319.74,23.9 319.92,24.21 320.1,24.51 320.28,24.82 320.46,25.13 320.63,25.44 320.8,25.75 320.97,26.06 321.14,26.37 321.31,26.69 321.47,27 321.64,27.32 321.8,27.64 321.97,27.95 322.13,28.27 322.29,28.59 322.45,28.91 322.61,29.23 322.77,29.54 322.93,29.86 323.09,30.18 323.25,30.49 323.4,30.81 323.56,31.13 323.72,31.44 323.88,31.75 324.03,32.07 324.19,32.38 324.34,32.7 324.49,33.01 324.65,33.33 324.8,33.65 324.94,33.97 325.09,34.28 325.24,34.6 325.39,34.92 325.53,35.24 325.67,35.57 325.82,35.89 325.96,36.21 326.1,36.53 326.24,36.85 326.38,37.18 326.53,37.5 326.66,37.82 326.8,38.15 326.94,38.47 327.08,38.79 327.22,39.12 327.36,39.44 327.5,39.77 327.63,40.09 327.77,40.42 327.91,40.74 328.05,41.07 328.18,41.39 328.32,41.72 328.46,42.04 328.6,42.36 328.74,42.69 328.87,43.01 329.01,43.34 329.15,43.66 329.29,43.98 329.43,44.31 329.57,44.63 329.71,44.95 329.86,45.28 330,45.6 330.14,45.92 330.29,46.24 330.43,46.56 330.57,46.88 330.72,47.2 330.86,47.53 331,47.85 331.15,48.17 331.29,48.49 331.43,48.81 331.58,49.13 331.72,49.45 331.86,49.78 332.01,50.1 332.15,50.42 332.3,50.74 332.44,51.06 332.58,51.38 332.73,51.7 332.87,52.02 333.02,52.35 333.16,52.67 333.3,52.99 333.45,53.31 333.59,53.63 333.73,53.95 333.88,54.27 334.02,54.59 334.17,54.92 334.31,55.24 334.45,55.56 334.6,55.88 334.74,56.2 334.88,56.52 335.03,56.84 335.17,57.17 335.31,57.49 335.46,57.81 335.6,58.13 335.74,58.45 335.89,58.77 336.03,59.09 336.17,59.42 336.32,59.74 336.46,60.06 336.6,60.38 336.74,60.7 336.89,61.03 337.03,61.35 337.17,61.67 337.31,61.99 337.46,62.31 337.6,62.64 337.74,62.96 337.88,63.28 338.02,63.6 338.17,63.92 338.31,64.25 338.45,64.57 338.59,64.89 338.73,65.21 338.88,65.53 339.02,65.86 339.16,66.18 339.3,66.5 339.44,66.82 339.58,67.15 339.73,67.47 339.87,67.79 340.01,68.11 340.15,68.43 340.29,68.76 340.43,69.08 340.58,69.4 340.72,69.72 340.86,70.05 341,70.37 341.14,70.69 341.29,71.01 341.43,71.33 341.57,71.66 341.71,71.98 341.86,72.3 342,72.62 342.14,72.94 342.28,73.26 342.43,73.59 342.57,73.91 342.71,74.23 342.86,74.55 343,74.87 343.14,75.19 343.28,75.52 343.43,75.84 343.57,76.16 343.71,76.48 343.85,76.81 343.99,77.13 344.14,77.45 344.28,77.77 344.42,78.09 344.56,78.42 344.7,78.74 344.84,79.06 344.99,79.38 345.13,79.71 345.27,80.03 345.41,80.35 345.56,80.67 345.7,80.99 345.84,81.31 345.99,81.64 346.13,81.96 346.27,82.28 346.42,82.6 346.56,82.92 346.7,83.24 346.85,83.56 346.99,83.88 347.14,84.21 347.28,84.53 347.43,84.85 347.58,85.17 347.72,85.49 347.87,85.81 348.02,86.13 348.17,86.44 348.31,86.76 348.46,87.08 348.61,87.4 348.76,87.72 348.91,88.04 349.06,88.36 349.21,88.67 349.37,88.99 349.52,89.31 349.67,89.62 349.82,89.94 349.98,90.26 350.13,90.58 350.28,90.89 350.44,91.21 350.59,91.52 350.75,91.84 350.9,92.16 351.06,92.47 351.22,92.79 351.37,93.1 351.53,93.42 351.69,93.73 351.85,94.05 352,94.36 352.16,94.68 352.32,94.99 352.48,95.3 352.64,95.62 352.8,95.93 352.96,96.25 353.12,96.56 353.28,96.87 353.44,97.19 353.6,97.5" fill="none" stroke="#000" stroke-width="3.0" stroke-linejoin="round" stroke-linecap="round" />
<polyline points="250.2,50.6 250.4,50.61 250.6,50.62 250.8,50.64 250.99,50.65 251.19,50.66 251.39,50.67 251.59,50.68 251.79,50.7 251.99,50.71 252.19,50.72 252.38,50.73 252.58,50.74 252.78,50.75 252.98,50.77 253.18,50.78 253.38,50.79 253.58,50.8 253.77,50.81 253.97,50.82 254.17,50.83 254.37,50.84 254.57,50.85 254.77,50.86 254.97,50.87 255.16,50.88 255.36,50.89 255.56,50.9 255.76,50.9 255.96,50.91 256.16,50.92 256.36,50.93 256.55,50.93 256.75,50.94 256.95,50.95 257.15,50.95 257.35,50.96 257.55,50.97 257.75,50.97 257.94,50.98 258.14,50.98 258.34,50.98 258.54,50.99 258.74,50.99 258.94,50.99 259.14,51 259.34,51 259.53,51 259.73,51 259.93,51 260.13,51 260.33,51 260.53,51 260.73,51 260.92,51 261.12,51 261.32,51 261.52,51 261.72,51 261.92,51 262.12,51 262.32,51 262.51,51 262.71,51 262.91,51 263.11,51 263.31,51 263.51,51 263.71,51 263.91,51 264.11,51 264.3,51 264.5,51 264.7,51 264.9,51 265.1,51 265.3,51 265.5,51 265.7,51 265.89,51 266.09,51 266.29,51 266.49,51 266.69,51 266.89,51 267.09,51 267.29,51 267.48,51 267.68,51 267.88,51 268.08,51 268.28,51 268.48,51 268.68,51 268.88,51 269.07,51 269.27,51 269.47,51 269.67,51 269.87,51 270.07,51 270.27,51 270.47,51 270.66,51 270.86,51 271.06,50.99 271.26,50.99 271.46,50.99 271.66,50.99 271.86,50.98 272.06,50.98 272.26,50.97 272.46,50.97 272.65,50.96 272.85,50.96 273.05,50.95 273.25,50.95 273.45,50.94 273.65,50.93 273.85,50.93 274.05,50.92 274.25,50.91 274.45,50.91 274.65,50.9 274.84,50.89 275.04,50.88 275.24,50.87 275.44,50.86 275.64,50.85 275.84,50.84 276.04,50.83 276.24,50.82 276.44,50.81 276.63,50.8 276.83,50.79 277.03,50.78 277.23,50.77 277.43,50.76 277.63,50.75 277.82,50.74 278.02,50.72 278.22,50.71 278.42,50.7 278.62,50.69 278.81,50.68 279.01,50.66 279.21,50.65 279.41,50.64 279.6,50.63 279.8,50.61 280,50.6 280.2,50.59 280.39,50.57 280.59,50.56 280.79,50.54 280.99,50.52 281.18,50.5 281.38,50.48 281.58,50.46 281.78,50.44 281.98,50.41 282.18,50.39 282.37,50.36 282.57,50.33 282.77,50.31 282.97,50.28 283.17,50.25 283.37,50.22 283.57,50.19 283.76,50.15 283.96,50.12 284.16,50.09 284.36,50.05 284.56,50.02 284.75,49.98 284.95,49.94 285.15,49.9 285.34,49.86 285.54,49.82 285.74,49.78 285.93,49.74 286.13,49.7 286.32,49.66 286.52,49.62 286.71,49.57 286.91,49.53 287.1,49.48 287.29,49.44 287.49,49.39 287.68,49.34 287.87,49.3 288.06,49.25 288.25,49.2 288.44,49.15 288.63,49.1 288.82,49.05 289.01,49 289.2,48.95 289.39,48.9 289.58,48.85 289.76,48.8 289.95,48.74 290.14,48.68 290.33,48.62 290.52,48.55 290.71,48.49 290.9,48.42 291.09,48.35 291.27,48.28 291.46,48.2 291.65,48.12 291.84,48.05 292.03,47.97 292.21,47.88 292.4,47.8 292.59,47.71 292.77,47.63 292.95,47.54 293.14,47.45 293.32,47.36 293.5,47.26 293.67,47.17 293.85,47.07 294.03,46.97 294.2,46.88 294.37,46.78 294.54,46.68 294.71,46.57 294.88,46.47 295.04,46.37 295.2,46.26 295.36,46.16 295.52,46.05 295.68,45.95 295.83,45.84 295.99,45.72 296.14,45.61 296.29,45.49 296.45,45.36 296.6,45.24 296.75,45.11 296.9,44.98 297.05,44.85 297.2,44.71 297.35,44.57 297.5,44.43 297.65,44.29 297.79,44.14 297.93,44 298.08,43.85 298.22,43.7 298.36,43.55 298.49,43.4 298.63,43.24 298.76,43.09 298.89,42.93 299.02,42.77 299.15,42.61 299.28,42.45 299.4,42.29 299.52,42.13 299.64,41.97 299.76,41.81 299.87,41.65 299.98,41.49 300.09,41.33 300.19,41.17 300.3,41 300.4,40.84 300.5,40.68 300.6,40.51 300.69,40.35 300.79,40.18 300.88,40.01 300.98,39.83 301.07,39.66 301.16,39.49 301.25,39.31 301.34,39.13 301.43,38.95 301.52,38.78 301.61,38.59 301.69,38.41 301.78,38.23 301.86,38.05 301.94,37.86 302.02,37.68 302.1,37.49 302.18,37.3 302.26,37.12 302.33,36.93 302.41,36.74 302.48,36.55 302.56,36.36 302.63,36.17 302.7,35.98 302.77,35.79 302.84,35.6 302.9,35.41 302.97,35.22 303.04,35.03 303.1,34.84 303.16,34.66 303.22,34.47 303.28,34.28 303.34,34.09 303.4,33.9 303.46,33.71 303.51,33.52 303.56,33.33 303.61,33.14 303.66,32.95 303.7,32.75 303.75,32.56 303.79,32.36 303.83,32.17 303.87,31.97 303.91,31.77 303.95,31.58 303.99,31.38 304.03,31.18 304.07,30.98 304.1,30.79 304.14,30.59 304.18,30.39 304.22,30.19 304.25,29.99 304.29,29.8 304.33,29.6 304.37,29.4 304.41,29.21 304.45,29.01 304.49,28.82 304.54,28.62 304.58,28.43 304.63,28.24 304.68,28.05 304.73,27.86 304.79,27.67 304.84,27.49 304.9,27.3 304.96,27.12 305.02,26.93 305.09,26.75 305.16,26.56 305.23,26.36 305.31,26.17 305.39,25.97 305.48,25.78 305.56,25.58 305.66,25.39 305.75,25.2 305.85,25.01 305.95,24.83 306.05,24.65 306.16,24.48 306.27,24.31 306.38,24.15 306.5,24.01 306.62,23.87 306.74,23.74 306.87,23.63 307,23.52 307.15,23.41 307.31,23.3 307.48,23.19 307.66,23.08 307.85,22.98 308.04,22.88 308.24,22.79 308.44,22.7 308.64,22.62 308.84,22.55 309.04,22.5 309.23,22.45 309.42,22.42 309.6,22.4 309.78,22.4 309.95,22.42 310.12,22.45 310.29,22.5 310.46,22.56 310.63,22.64 310.8,22.73 310.97,22.83 311.14,22.94 311.31,23.06 311.47,23.19 311.64,23.32 311.8,23.47 311.96,23.61 312.12,23.76 312.28,23.92 312.44,24.08 312.59,24.24 312.75,24.4 312.89,24.55 313.04,24.71 313.19,24.86 313.33,25.01 313.46,25.16 313.6,25.3 313.73,25.44 313.86,25.58 313.99,25.72 314.12,25.86 314.24,26.01 314.36,26.16 314.49,26.31 314.61,26.46 314.72,26.62 314.84,26.78 314.96,26.93 315.07,27.09 315.19,27.26 315.3,27.42 315.41,27.59 315.52,27.75 315.63,27.92 315.74,28.09 315.85,28.26 315.95,28.43 316.06,28.6 316.17,28.77 316.27,28.94 316.38,29.12 316.48,29.29 316.59,29.46 316.69,29.64 316.79,29.81 316.9,29.99 317,30.16 317.1,30.34 317.21,30.51 317.31,30.69 317.41,30.86 317.52,31.03 317.62,31.21 317.72,31.38 317.83,31.55 317.93,31.72 318.04,31.89 318.15,32.06 318.25,32.23 318.36,32.4 318.47,32.56 318.58,32.73 318.68,32.9 318.79,33.06 318.9,33.23 319,33.4 319.11,33.57 319.22,33.73 319.33,33.9 319.43,34.07 319.54,34.24 319.64,34.4 319.75,34.57 319.86,34.74 319.96,34.91 320.07,35.08 320.17,35.25 320.28,35.41 320.39,35.58 320.49,35.75 320.6,35.92 320.7,36.09 320.81,36.26 320.91,36.43 321.02,36.59 321.12,36.76 321.23,36.93 321.33,37.1 321.43,37.27 321.54,37.44 321.64,37.61 321.75,37.78 321.85,37.95 321.95,38.12 322.06,38.29 322.16,38.46 322.26,38.63 322.37,38.8 322.47,38.97 322.57,39.14 322.68,39.31 322.78,39.48 322.88,39.65 322.98,39.82 323.09,39.99 323.19,40.16 323.29,40.33 323.39,40.5 323.49,40.67 323.59,40.84 323.7,41.01 323.8,41.19 323.9,41.36 324,41.53 324.1,41.7" fill="none" stroke="#6a1ee6" stroke-width="3.0" stroke-linejoin="round" stroke-linecap="round" />
<line x1="248" y1="78.1" x2="274.6" y2="78.1" stroke="#999" stroke-width="0.7" stroke-dasharray="0.8 0.8"/>
<circle cx="248" cy="78.1" r="1.2" fill="#000"/><circle cx="274.6" cy="78.1" r="1.2" fill="#000"/>
<text x="282.8" y="82.9" font-size="13.6" text-anchor="start" fill="#111" >0.5 T</text>
<line x1="248" y1="94.2" x2="274.6" y2="94.2" stroke="#999" stroke-width="0.7" stroke-dasharray="0.8 0.8"/>
<circle cx="248" cy="94.2" r="1.2" fill="#7a2ef0"/><circle cx="274.6" cy="94.2" r="1.2" fill="#7a2ef0"/>
<text x="282.8" y="99" font-size="13.6" text-anchor="start" fill="#111" >8 T</text>
<line x1="401.7" y1="5.8" x2="401.7" y2="107" stroke="#8a8a8a" stroke-width="1" />
<line x1="401.7" y1="107" x2="532.7" y2="107" stroke="#8a8a8a" stroke-width="1" />
<line x1="401.7" y1="107" x2="406.7" y2="107" stroke="#8a8a8a" stroke-width="1" />
<line x1="401.7" y1="86.7" x2="404.7" y2="86.7" stroke="#8a8a8a" stroke-width="1" />
<line x1="401.7" y1="66.4" x2="406.7" y2="66.4" stroke="#8a8a8a" stroke-width="1" />
<line x1="401.7" y1="46.1" x2="404.7" y2="46.1" stroke="#8a8a8a" stroke-width="1" />
<line x1="401.7" y1="25.8" x2="406.7" y2="25.8" stroke="#8a8a8a" stroke-width="1" />
<line x1="401.7" y1="5.5" x2="404.7" y2="5.5" stroke="#8a8a8a" stroke-width="1" />
<line x1="401.7" y1="107" x2="401.7" y2="102" stroke="#8a8a8a" stroke-width="1" />
<line x1="414.8" y1="107" x2="414.8" y2="104" stroke="#8a8a8a" stroke-width="1" />
<line x1="427.9" y1="107" x2="427.9" y2="102" stroke="#8a8a8a" stroke-width="1" />
<line x1="441" y1="107" x2="441" y2="104" stroke="#8a8a8a" stroke-width="1" />
<line x1="454.1" y1="107" x2="454.1" y2="102" stroke="#8a8a8a" stroke-width="1" />
<line x1="467.2" y1="107" x2="467.2" y2="104" stroke="#8a8a8a" stroke-width="1" />
<line x1="480.3" y1="107" x2="480.3" y2="102" stroke="#8a8a8a" stroke-width="1" />
<line x1="493.4" y1="107" x2="493.4" y2="104" stroke="#8a8a8a" stroke-width="1" />
<line x1="506.5" y1="107" x2="506.5" y2="102" stroke="#8a8a8a" stroke-width="1" />
<line x1="519.6" y1="107" x2="519.6" y2="104" stroke="#8a8a8a" stroke-width="1" />
<line x1="532.7" y1="107" x2="532.7" y2="102" stroke="#8a8a8a" stroke-width="1" />
<text x="396.2" y="110.27" font-size="9.5" text-anchor="end" fill="#111" >0.0</text>
<text x="396.2" y="69.67" font-size="9.5" text-anchor="end" fill="#111" >0.2</text>
<text x="396.2" y="29.07" font-size="9.5" text-anchor="end" fill="#111" >0.4</text>
<text x="401.7" y="120.64" font-size="10" text-anchor="middle" fill="#111" >0</text>
<text x="427.9" y="120.64" font-size="10" text-anchor="middle" fill="#111" >2</text>
<text x="454.1" y="120.64" font-size="10" text-anchor="middle" fill="#111" >4</text>
<text x="480.3" y="120.64" font-size="10" text-anchor="middle" fill="#111" >6</text>
<text x="506.5" y="120.64" font-size="10" text-anchor="middle" fill="#111" >8</text>
<text x="532.7" y="120.64" font-size="10" text-anchor="middle" fill="#111" >10</text>
<text x="466.8" y="137" font-size="13" text-anchor="middle" fill="#111" ><tspan font-style="italic">H</tspan> (T)</text>
<text x="378.3" y="44.6" font-size="13" text-anchor="middle" fill="#111" transform="rotate(-90 378.3 44.6)" ><tspan font-style="italic">M</tspan> (&#956;<tspan font-size="9" dy="3.5">B</tspan><tspan dy="-3.5">/fu)</tspan></text>
<polyline points="401.7,107 404.32,105.06 406.94,103.12 409.56,101.19 412.18,99.25 414.8,97.31 417.42,95.37 420.04,93.44 422.66,91.5 425.28,89.56 427.9,87.62 430.52,85.68 433.14,83.75 435.76,81.81 438.38,79.87 441,77.93 443.62,76 446.24,74.06 448.86,72.12 451.48,70.18 454.1,68.24 456.72,66.31 459.34,64.37 461.96,62.43 464.58,60.49 467.2,58.56 469.82,56.62 472.44,54.68 475.06,52.74 477.68,50.8 480.3,48.87 482.92,46.93 485.54,44.99 488.16,43.05 490.78,41.12 493.4,39.18 496.02,37.24 498.64,35.3 501.26,33.36 503.88,31.43 506.5,29.49 509.12,27.55 511.74,25.61 514.36,23.68 516.98,21.74 519.6,19.8" fill="none" stroke="#f9bcbc" stroke-width="3.4" stroke-linejoin="round" stroke-linecap="round" />
<polyline points="401.7,107 404.32,105.03 406.94,103.06 409.56,101.09 412.18,99.12 414.8,97.16 417.42,95.19 420.04,93.22 422.66,91.25 425.28,89.28 427.9,87.31 430.52,85.34 433.14,83.37 435.76,81.4 438.38,79.44 441,77.47 443.62,75.5 446.24,73.53 448.86,71.56 451.48,69.59 454.1,67.62 456.72,65.65 459.34,63.68 461.96,61.72 464.58,59.75 467.2,57.78 469.82,55.81 472.44,53.84 475.06,51.87 477.68,49.9 480.3,47.93 482.92,45.96 485.54,44 488.16,42.03 490.78,40.06 493.4,38.09 496.02,36.12 498.64,34.15 501.26,32.18 503.88,30.21 506.5,28.24 509.12,26.28 511.74,24.31 514.36,22.34 516.98,20.37 519.6,18.4" fill="none" stroke="#f03a3a" stroke-width="1.3" stroke-linejoin="round" stroke-linecap="round" />
<polyline points="401.7,107 404.32,105.4 406.94,103.8 409.56,102.2 412.18,100.59 414.8,98.98 417.42,97.37 420.04,95.76 422.66,94.14 425.28,92.52 427.9,90.89 430.52,89.27 433.14,87.64 435.76,86.01 438.38,84.37 441,82.73 443.62,81.09 446.24,79.45 448.86,77.8 451.48,76.15 454.1,74.49 456.72,72.84 459.34,71.18 461.96,69.52 464.58,67.85 467.2,66.18 469.82,64.51 472.44,62.84 475.06,61.16 477.68,59.48 480.3,57.8 482.92,56.11 485.54,54.42 488.16,52.73 490.78,51.04 493.4,49.34 496.02,47.64 498.64,45.94 501.26,44.23 503.88,42.52 506.5,40.81 509.12,39.09 511.74,37.37 514.36,35.65 516.98,33.93 519.6,32.2" fill="none" stroke="#d4d4fb" stroke-width="2.4" stroke-linejoin="round" stroke-linecap="round" />
<polyline points="401.7,107 404.32,105.4 406.94,103.8 409.56,102.2 412.18,100.59 414.8,98.97 417.42,97.36 420.04,95.74 422.66,94.11 425.28,92.48 427.9,90.85 430.52,89.22 433.14,87.58 435.76,85.94 438.38,84.29 441,82.64 443.62,80.99 446.24,79.33 448.86,77.67 451.48,76 454.1,74.33 456.72,72.66 459.34,70.98 461.96,69.3 464.58,67.62 467.2,65.93 469.82,64.24 472.44,62.55 475.06,60.85 477.68,59.15 480.3,57.44 482.92,55.73 485.54,54.02 488.16,52.3 490.78,50.58 493.4,48.85 496.02,47.12 498.64,45.39 501.26,43.66 503.88,41.92 506.5,40.17 509.12,38.43 511.74,36.68 514.36,34.92 516.98,33.16 519.6,31.4" fill="none" stroke="#a4a4f6" stroke-width="1.4" stroke-linejoin="round" stroke-linecap="round" />
<text x="471.3" y="41.3" font-size="12.8" text-anchor="middle" fill="#111" transform="rotate(-44 471.3 41.3)" >25 K, 60 K</text>
<text x="505.5" y="66" font-size="12.8" text-anchor="middle" fill="#111" transform="rotate(-44 505.5 66)" >2 K, 10 K</text>
<line x1="148.3" y1="137.4" x2="148.3" y2="229.5" stroke="#8a8a8a" stroke-width="1" />
<line x1="148.3" y1="229.5" x2="286" y2="229.5" stroke="#8a8a8a" stroke-width="1" />
<line x1="148.3" y1="229.4" x2="152.8" y2="229.4" stroke="#8a8a8a" stroke-width="0.9" />
<line x1="148.3" y1="218.18" x2="150.8" y2="218.18" stroke="#8a8a8a" stroke-width="0.9" />
<line x1="148.3" y1="206.95" x2="152.8" y2="206.95" stroke="#8a8a8a" stroke-width="0.9" />
<line x1="148.3" y1="195.73" x2="150.8" y2="195.73" stroke="#8a8a8a" stroke-width="0.9" />
<line x1="148.3" y1="184.5" x2="152.8" y2="184.5" stroke="#8a8a8a" stroke-width="0.9" />
<line x1="148.3" y1="173.28" x2="150.8" y2="173.28" stroke="#8a8a8a" stroke-width="0.9" />
<line x1="148.3" y1="162.05" x2="152.8" y2="162.05" stroke="#8a8a8a" stroke-width="0.9" />
<line x1="148.3" y1="150.82" x2="150.8" y2="150.82" stroke="#8a8a8a" stroke-width="0.9" />
<line x1="148.3" y1="139.6" x2="152.8" y2="139.6" stroke="#8a8a8a" stroke-width="0.9" />
<line x1="148.3" y1="229.5" x2="148.3" y2="225" stroke="#8a8a8a" stroke-width="0.9" />
<line x1="171.25" y1="229.5" x2="171.25" y2="227" stroke="#8a8a8a" stroke-width="0.9" />
<line x1="194.2" y1="229.5" x2="194.2" y2="225" stroke="#8a8a8a" stroke-width="0.9" />
<line x1="217.15" y1="229.5" x2="217.15" y2="227" stroke="#8a8a8a" stroke-width="0.9" />
<line x1="240.1" y1="229.5" x2="240.1" y2="225" stroke="#8a8a8a" stroke-width="0.9" />
<line x1="263.05" y1="229.5" x2="263.05" y2="227" stroke="#8a8a8a" stroke-width="0.9" />
<line x1="286" y1="229.5" x2="286" y2="225" stroke="#8a8a8a" stroke-width="0.9" />
<text x="142.9" y="232.24" font-size="10" text-anchor="end" fill="#111" >0.00</text>
<text x="142.9" y="209.79" font-size="10" text-anchor="end" fill="#111" >0.01</text>
<text x="142.9" y="187.34" font-size="10" text-anchor="end" fill="#111" >0.02</text>
<text x="142.9" y="164.89" font-size="10" text-anchor="end" fill="#111" >0.03</text>
<text x="142.9" y="142.44" font-size="10" text-anchor="end" fill="#111" >0.04</text>
<text x="148.3" y="242.1" font-size="9.6" text-anchor="middle" fill="#111" >0</text>
<text x="194.2" y="242.1" font-size="9.6" text-anchor="middle" fill="#111" >100</text>
<text x="240.1" y="242.1" font-size="9.6" text-anchor="middle" fill="#111" >200</text>
<text x="286" y="242.1" font-size="9.6" text-anchor="middle" fill="#111" >300</text>
<text x="218.4" y="246.2" font-size="10" text-anchor="middle" fill="#111" ><tspan font-style="italic">T</tspan> (K)</text>
<text x="112.9" y="179.5" font-size="11.2" text-anchor="middle" fill="#111" transform="rotate(-90 112.9 179.5)" >&#967;' (emu/mol)</text>
<polyline points="148.6,175.3 148.92,175.19 149.25,175.08 149.57,174.96 149.89,174.84 150.21,174.72 150.53,174.59 150.84,174.46 151.16,174.33 151.49,174.2 151.82,174.07 152.16,173.94 152.51,173.81 152.85,173.67 153.2,173.54 153.53,173.4 153.86,173.25 154.18,173.1 154.48,172.94 154.76,172.78 155.02,172.6 155.26,172.42 155.47,172.23 155.66,172.02 155.85,171.8 156.03,171.55 156.2,171.29 156.37,171.02 156.53,170.73 156.68,170.42 156.83,170.11 156.97,169.79 157.11,169.46 157.25,169.12 157.38,168.78 157.5,168.43 157.62,168.08 157.74,167.72 157.85,167.37 157.96,167.02 158.06,166.67 158.16,166.33 158.26,165.99 158.36,165.66 158.45,165.33 158.53,165.01 158.61,164.68 158.69,164.35 158.77,164.02 158.84,163.68 158.91,163.35 158.97,163.01 159.04,162.68 159.1,162.34 159.16,162 159.22,161.66 159.28,161.32 159.34,160.98 159.4,160.65 159.46,160.31 159.52,159.97 159.59,159.63 159.65,159.29 159.72,158.96 159.79,158.62 159.86,158.29 159.93,157.95 160.01,157.61 160.08,157.27 160.15,156.92 160.21,156.57 160.28,156.22 160.35,155.87 160.42,155.52 160.5,155.18 160.57,154.83 160.65,154.49 160.73,154.15 160.82,153.82 160.91,153.5 161.01,153.18 161.12,152.88 161.23,152.58 161.35,152.3 161.49,152.02 161.66,151.72 161.87,151.4 162.1,151.09 162.35,150.77 162.62,150.47 162.9,150.19 163.19,149.94 163.47,149.72 163.75,149.56 164.02,149.45 164.27,149.4 164.5,149.41 164.74,149.45 164.98,149.52 165.21,149.61 165.44,149.74 165.67,149.88 165.9,150.05 166.13,150.23 166.36,150.44 166.59,150.67 166.81,150.91 167.04,151.17 167.26,151.44 167.49,151.73 167.71,152.03 167.94,152.33 168.16,152.65 168.38,152.97 168.61,153.3 168.83,153.64 169.06,153.97 169.28,154.31 169.51,154.65 169.73,154.99 169.96,155.33 170.18,155.66 170.41,155.99 170.64,156.31 170.87,156.62 171.1,156.93 171.33,157.22 171.56,157.51 171.79,157.77 172.03,158.03 172.26,158.28 172.5,158.52 172.74,158.77 172.97,159.01 173.21,159.26 173.45,159.5 173.69,159.74 173.93,159.99 174.18,160.23 174.42,160.47 174.66,160.71 174.9,160.95 175.15,161.19 175.39,161.43 175.63,161.67 175.88,161.91 176.12,162.15 176.37,162.39 176.61,162.63 176.85,162.87 177.1,163.11 177.34,163.35 177.59,163.59 177.83,163.83 178.07,164.07 178.32,164.32 178.56,164.56 178.8,164.8 179.04,165.04 179.28,165.28 179.52,165.53 179.76,165.77 180,166.02 180.24,166.26 180.48,166.51 180.71,166.76 180.95,167 181.19,167.25 181.42,167.5 181.66,167.75 181.9,168 182.13,168.24 182.37,168.49 182.61,168.74 182.84,168.99 183.08,169.23 183.32,169.48 183.56,169.73 183.8,169.97 184.04,170.22 184.28,170.46 184.52,170.7 184.76,170.94 185,171.18 185.25,171.42 185.5,171.65 185.74,171.89 185.99,172.12 186.24,172.35 186.49,172.58 186.75,172.81 187,173.04 187.26,173.27 187.51,173.49 187.77,173.71 188.03,173.94 188.29,174.16 188.55,174.38 188.82,174.6 189.08,174.82 189.34,175.03 189.61,175.25 189.87,175.47 190.14,175.68 190.41,175.9 190.67,176.11 190.94,176.33 191.21,176.54 191.48,176.75 191.75,176.96 192.02,177.18 192.29,177.39 192.55,177.6 192.82,177.81 193.09,178.02 193.36,178.23 193.63,178.45 193.9,178.66 194.17,178.87 194.44,179.08 194.7,179.3 194.97,179.51 195.24,179.73 195.51,179.94 195.77,180.16 196.04,180.37 196.31,180.59 196.58,180.81 196.85,181.02 197.12,181.24 197.38,181.45 197.65,181.66 197.92,181.88 198.19,182.09 198.46,182.3 198.74,182.51 199.01,182.72 199.28,182.93 199.55,183.14 199.83,183.34 200.1,183.55 200.38,183.75 200.66,183.95 200.93,184.14 201.21,184.34 201.49,184.53 201.78,184.72 202.06,184.91 202.34,185.1 202.63,185.28 202.91,185.46 203.2,185.64 203.49,185.81 203.78,185.99 204.08,186.16 204.37,186.32 204.67,186.49 204.97,186.65 205.27,186.81 205.57,186.97 205.87,187.12 206.18,187.28 206.48,187.43 206.79,187.58 207.1,187.73 207.41,187.88 207.72,188.03 208.02,188.18 208.34,188.33 208.65,188.48 208.96,188.62 209.27,188.77 209.58,188.91 209.89,189.06 210.2,189.2 210.51,189.35 210.83,189.5 211.14,189.64 211.45,189.79 211.76,189.94 212.06,190.09 212.37,190.24 212.68,190.39 212.99,190.54 213.29,190.7 213.6,190.85 213.9,191.01 214.21,191.16 214.51,191.32 214.81,191.48 215.12,191.64 215.42,191.8 215.73,191.96 216.03,192.11 216.33,192.27 216.64,192.43 216.94,192.59 217.24,192.75 217.55,192.91 217.85,193.07 218.16,193.22 218.46,193.38 218.77,193.53 219.07,193.69 219.38,193.84 219.68,193.99 219.99,194.14 220.3,194.29 220.61,194.44 220.91,194.59 221.22,194.73 221.53,194.87 221.84,195.01 222.16,195.15 222.47,195.29 222.78,195.42 223.1,195.55 223.41,195.69 223.73,195.82 224.04,195.95 224.36,196.07 224.68,196.2 224.99,196.33 225.31,196.45 225.63,196.58 225.95,196.7 226.27,196.82 226.59,196.95 226.91,197.07 227.23,197.19 227.55,197.31 227.87,197.42 228.2,197.54 228.52,197.66 228.84,197.77 229.16,197.89 229.49,198 229.81,198.12 230.13,198.23 230.46,198.34 230.78,198.45 231.1,198.56 231.43,198.67 231.75,198.78 232.08,198.89 232.4,199 232.72,199.11 233.05,199.22 233.37,199.32 233.7,199.43 234.02,199.53 234.35,199.64 234.67,199.74 235,199.85 235.33,199.95 235.65,200.05 235.98,200.15 236.31,200.26 236.63,200.36 236.96,200.46 237.29,200.56 237.62,200.66 237.94,200.76 238.27,200.85 238.6,200.95 238.93,201.05 239.26,201.15 239.59,201.24 239.91,201.34 240.24,201.43 240.57,201.53 240.9,201.62 241.23,201.71 241.56,201.81 241.89,201.9 242.22,201.99 242.55,202.08 242.88,202.17 243.21,202.26 243.54,202.35 243.87,202.44 244.2,202.53 244.53,202.61 244.86,202.7 245.19,202.79 245.52,202.87 245.85,202.96 246.18,203.04 246.51,203.13 246.85,203.21 247.18,203.3 247.51,203.38 247.84,203.46 248.17,203.54 248.51,203.63 248.84,203.71 249.17,203.79 249.5,203.87 249.84,203.95 250.17,204.03 250.5,204.11 250.84,204.19 251.17,204.26 251.5,204.34 251.83,204.42 252.17,204.5 252.5,204.57 252.84,204.65 253.17,204.73 253.5,204.8 253.84,204.88 254.17,204.95 254.5,205.03 254.84,205.1 255.17,205.17 255.51,205.25 255.84,205.32 256.17,205.39 256.51,205.47 256.84,205.54 257.18,205.61 257.51,205.68 257.84,205.76 258.18,205.83 258.51,205.9 258.85,205.97 259.18,206.04 259.52,206.11 259.85,206.18 260.19,206.25 260.52,206.32 260.86,206.39 261.19,206.46 261.53,206.53 261.86,206.6 262.2,206.66 262.53,206.73 262.87,206.8 263.21,206.87 263.54,206.93 263.88,207 264.21,207.06 264.55,207.13 264.89,207.19 265.22,207.26 265.56,207.32 265.89,207.38 266.23,207.45 266.57,207.51 266.9,207.57 267.24,207.63 267.58,207.69 267.91,207.75 268.25,207.81 268.59,207.87 268.92,207.93 269.26,207.98 269.6,208.04 269.93,208.1 270.27,208.16 270.61,208.21 270.94,208.27 271.28,208.33 271.62,208.38 271.96,208.44 272.29,208.5 272.63,208.55 272.97,208.61 273.31,208.66 273.64,208.72 273.98,208.77 274.32,208.83 274.66,208.88 274.99,208.93 275.33,208.99 275.67,209.04 276.01,209.09 276.35,209.14 276.68,209.2 277.02,209.25 277.36,209.3 277.7,209.35 278.04,209.4 278.38,209.45 278.71,209.5 279.05,209.55 279.39,209.6 279.73,209.65 280.07,209.7 280.41,209.74 280.75,209.79 281.09,209.84 281.42,209.88 281.76,209.93 282.1,209.98 282.44,210.02 282.78,210.07 283.12,210.11 283.46,210.16 283.8,210.2" fill="none" stroke="#a0a0a0" stroke-width="1.8" stroke-linejoin="round" stroke-linecap="round" />
<g fill="#16165a"><circle cx="148.6" cy="175.43" r="1.22"/><circle cx="150.3" cy="174.25" r="1.22"/><circle cx="152.01" cy="173.5" r="1.22"/><circle cx="153.93" cy="173.83" r="1.22"/><circle cx="155.35" cy="171.92" r="1.22"/><circle cx="156.72" cy="170.8" r="1.22"/><circle cx="157.36" cy="168.48" r="1.22"/><circle cx="157.93" cy="167.42" r="1.22"/><circle cx="158.06" cy="165.07" r="1.22"/><circle cx="158.32" cy="162.85" r="1.22"/><circle cx="158.69" cy="161.45" r="1.22"/><circle cx="159.19" cy="159.81" r="1.22"/><circle cx="160.01" cy="157.74" r="1.22"/><circle cx="159.58" cy="155.72" r="1.22"/><circle cx="160.73" cy="154.16" r="1.22"/><circle cx="160.89" cy="152.1" r="1.22"/><circle cx="162.1" cy="150.37" r="1.22"/><circle cx="164.15" cy="149.15" r="1.22"/><circle cx="165.61" cy="150.24" r="1.22"/><circle cx="166.83" cy="151.09" r="1.22"/><circle cx="168.19" cy="152.68" r="1.22"/><circle cx="168.85" cy="154.26" r="1.22"/><circle cx="170.69" cy="155.1" r="1.22"/><circle cx="171.67" cy="157.38" r="1.22"/><circle cx="172.5" cy="159.63" r="1.22"/><circle cx="174.26" cy="159.54" r="1.22"/><circle cx="175.4" cy="161.68" r="1.22"/><circle cx="176.67" cy="163.06" r="1.22"/><circle cx="178.06" cy="164.39" r="1.22"/><circle cx="179.86" cy="165.12" r="1.22"/><circle cx="180.81" cy="166.58" r="1.22"/><circle cx="182.1" cy="167.63" r="1.22"/><circle cx="183.2" cy="169.45" r="1.22"/><circle cx="184.98" cy="171.41" r="1.22"/><circle cx="185.68" cy="171.85" r="1.22"/><circle cx="187.69" cy="172.58" r="1.22"/><circle cx="188.81" cy="174.66" r="1.22"/><circle cx="190.79" cy="176.22" r="1.22"/><circle cx="191.81" cy="176.92" r="1.22"/><circle cx="193.32" cy="178.95" r="1.22"/><circle cx="194.76" cy="179.31" r="1.22"/><circle cx="196.47" cy="180.58" r="1.22"/><circle cx="197.79" cy="181.32" r="1.22"/><circle cx="199.35" cy="182.78" r="1.22"/><circle cx="201.23" cy="184.4" r="1.22"/><circle cx="202.45" cy="185.47" r="1.22"/><circle cx="203.98" cy="186.63" r="1.22"/><circle cx="205.75" cy="187.32" r="1.22"/><circle cx="207.07" cy="188.06" r="1.22"/><circle cx="208.66" cy="187.81" r="1.22"/><circle cx="210.8" cy="189.12" r="1.22"/><circle cx="212.65" cy="191.36" r="1.22"/><circle cx="214.05" cy="190.93" r="1.22"/><circle cx="216.04" cy="192.31" r="1.22"/><circle cx="217.61" cy="192.88" r="1.22"/><circle cx="219.57" cy="194.07" r="1.22"/><circle cx="220.76" cy="194.62" r="1.22"/><circle cx="222.82" cy="194.96" r="1.22"/><circle cx="224.64" cy="195.77" r="1.22"/><circle cx="226.62" cy="196.93" r="1.22"/><circle cx="228.14" cy="197.25" r="1.22"/><circle cx="229.87" cy="197.25" r="1.22"/><circle cx="231.36" cy="198.93" r="1.22"/><circle cx="232.86" cy="199.74" r="1.22"/><circle cx="234.79" cy="200.29" r="1.22"/><circle cx="236.87" cy="200.86" r="1.22"/><circle cx="238.99" cy="200.36" r="1.22"/><circle cx="241.15" cy="202.23" r="1.22"/><circle cx="242.58" cy="201.97" r="1.22"/><circle cx="244.39" cy="202.15" r="1.22"/><circle cx="246.6" cy="202.82" r="1.22"/><circle cx="248.1" cy="203.17" r="1.22"/><circle cx="249.78" cy="203.4" r="1.22"/><circle cx="252.19" cy="204.34" r="1.22"/><circle cx="253.95" cy="204.84" r="1.22"/><circle cx="255.31" cy="205.1" r="1.22"/><circle cx="257.21" cy="205.66" r="1.22"/><circle cx="259.12" cy="205.92" r="1.22"/><circle cx="260.68" cy="206.08" r="1.22"/><circle cx="263.45" cy="206.51" r="1.22"/><circle cx="264.5" cy="207.33" r="1.22"/><circle cx="267.11" cy="206.88" r="1.22"/><circle cx="268.5" cy="207.58" r="1.22"/><circle cx="269.9" cy="208.52" r="1.22"/><circle cx="272.3" cy="208.53" r="1.22"/><circle cx="273.96" cy="209.01" r="1.22"/><circle cx="275.9" cy="209.04" r="1.22"/><circle cx="277.6" cy="208.84" r="1.22"/><circle cx="280.22" cy="209.43" r="1.22"/><circle cx="281.79" cy="209.91" r="1.22"/><circle cx="283.45" cy="209.94" r="1.22"/><circle cx="149" cy="175.72" r="1.22"/><circle cx="149.55" cy="175.13" r="1.22"/><circle cx="150.1" cy="175.08" r="1.22"/><circle cx="150.65" cy="175.05" r="1.22"/><circle cx="151.2" cy="175.51" r="1.22"/><circle cx="151.75" cy="175.14" r="1.22"/><circle cx="152.3" cy="174.87" r="1.22"/><circle cx="152.85" cy="174.28" r="1.22"/><circle cx="153.4" cy="173.75" r="1.22"/><circle cx="153.95" cy="174.79" r="1.22"/><circle cx="154.5" cy="174.68" r="1.22"/><circle cx="155.05" cy="174.01" r="1.22"/><circle cx="155.6" cy="174.23" r="1.22"/><circle cx="156.15" cy="174.23" r="1.22"/></g>
<line x1="160" y1="183.1" x2="175.1" y2="183.1" stroke="#999" stroke-width="0.9" />
<circle cx="167.4" cy="183.1" r="1.55" fill="#f0f020" stroke="#999" stroke-width="0.4"/>
<text x="177.3" y="185.7" font-size="7.0" text-anchor="start" fill="#333" >0.1 Hz</text>
<line x1="160" y1="191.8" x2="175.1" y2="191.8" stroke="#999" stroke-width="0.9" />
<circle cx="167.4" cy="191.8" r="1.55" fill="#e01010" stroke="#900" stroke-width="0.4"/>
<text x="177.3" y="194.4" font-size="7.0" text-anchor="start" fill="#333" >1 Hz</text>
<line x1="160" y1="200.5" x2="175.1" y2="200.5" stroke="#999" stroke-width="0.9" />
<circle cx="167.4" cy="200.5" r="1.55" fill="#20d020" stroke="#090" stroke-width="0.4"/>
<text x="177.3" y="203.1" font-size="7.0" text-anchor="start" fill="#333" >10 Hz</text>
<line x1="160" y1="209.2" x2="175.1" y2="209.2" stroke="#999" stroke-width="0.9" />
<circle cx="167.4" cy="209.2" r="1.55" fill="#fff" stroke="#666" stroke-width="0.4"/>
<text x="177.3" y="211.8" font-size="7.0" text-anchor="start" fill="#333" >100 Hz</text>
<line x1="160" y1="217.9" x2="175.1" y2="217.9" stroke="#999" stroke-width="0.9" />
<circle cx="167.4" cy="217.9" r="1.55" fill="#101060" stroke="#101060" stroke-width="0.4"/>
<text x="177.3" y="220.5" font-size="7.0" text-anchor="start" fill="#333" >1000 Hz</text>
<line x1="85.5" y1="574" x2="93.5" y2="574" stroke="#444" stroke-width="1.2" />
<line x1="538.2" y1="574" x2="530.2" y2="574" stroke="#444" stroke-width="1.2" />
<line x1="85.5" y1="546.2" x2="89.5" y2="546.2" stroke="#444" stroke-width="1.2" />
<line x1="538.2" y1="546.2" x2="534.2" y2="546.2" stroke="#444" stroke-width="1.2" />
<line x1="85.5" y1="518.4" x2="93.5" y2="518.4" stroke="#444" stroke-width="1.2" />
<line x1="538.2" y1="518.4" x2="530.2" y2="518.4" stroke="#444" stroke-width="1.2" />
<line x1="85.5" y1="490.6" x2="89.5" y2="490.6" stroke="#444" stroke-width="1.2" />
<line x1="538.2" y1="490.6" x2="534.2" y2="490.6" stroke="#444" stroke-width="1.2" />
<line x1="85.5" y1="462.8" x2="93.5" y2="462.8" stroke="#444" stroke-width="1.2" />
<line x1="538.2" y1="462.8" x2="530.2" y2="462.8" stroke="#444" stroke-width="1.2" />
<line x1="85.5" y1="435" x2="89.5" y2="435" stroke="#444" stroke-width="1.2" />
<line x1="538.2" y1="435" x2="534.2" y2="435" stroke="#444" stroke-width="1.2" />
<line x1="85.5" y1="407.2" x2="93.5" y2="407.2" stroke="#444" stroke-width="1.2" />
<line x1="538.2" y1="407.2" x2="530.2" y2="407.2" stroke="#444" stroke-width="1.2" />
<line x1="85.5" y1="379.4" x2="89.5" y2="379.4" stroke="#444" stroke-width="1.2" />
<line x1="538.2" y1="379.4" x2="534.2" y2="379.4" stroke="#444" stroke-width="1.2" />
<line x1="85.5" y1="351.6" x2="93.5" y2="351.6" stroke="#444" stroke-width="1.2" />
<line x1="538.2" y1="351.6" x2="530.2" y2="351.6" stroke="#444" stroke-width="1.2" />
<line x1="139.7" y1="579.4" x2="139.7" y2="574.9" stroke="#333" stroke-width="1.2" />
<line x1="139.7" y1="323.9" x2="139.7" y2="328.4" stroke="#333" stroke-width="1.2" />
<line x1="171.52" y1="579.4" x2="171.52" y2="574.9" stroke="#333" stroke-width="1.2" />
<line x1="171.52" y1="323.9" x2="171.52" y2="328.4" stroke="#333" stroke-width="1.2" />
<line x1="194.09" y1="579.4" x2="194.09" y2="574.9" stroke="#333" stroke-width="1.2" />
<line x1="194.09" y1="323.9" x2="194.09" y2="328.4" stroke="#333" stroke-width="1.2" />
<line x1="211.6" y1="579.4" x2="211.6" y2="574.9" stroke="#333" stroke-width="1.2" />
<line x1="211.6" y1="323.9" x2="211.6" y2="328.4" stroke="#333" stroke-width="1.2" />
<line x1="225.91" y1="579.4" x2="225.91" y2="574.9" stroke="#333" stroke-width="1.2" />
<line x1="225.91" y1="323.9" x2="225.91" y2="328.4" stroke="#333" stroke-width="1.2" />
<line x1="238.01" y1="579.4" x2="238.01" y2="574.9" stroke="#333" stroke-width="1.2" />
<line x1="238.01" y1="323.9" x2="238.01" y2="328.4" stroke="#333" stroke-width="1.2" />
<line x1="248.49" y1="579.4" x2="248.49" y2="574.9" stroke="#333" stroke-width="1.2" />
<line x1="248.49" y1="323.9" x2="248.49" y2="328.4" stroke="#333" stroke-width="1.2" />
<line x1="257.73" y1="579.4" x2="257.73" y2="574.9" stroke="#333" stroke-width="1.2" />
<line x1="257.73" y1="323.9" x2="257.73" y2="328.4" stroke="#333" stroke-width="1.2" />
<line x1="266" y1="579.4" x2="266" y2="571.4" stroke="#333" stroke-width="1.2" />
<line x1="266" y1="323.9" x2="266" y2="331.9" stroke="#333" stroke-width="1.2" />
<line x1="320.4" y1="579.4" x2="320.4" y2="574.9" stroke="#333" stroke-width="1.2" />
<line x1="320.4" y1="323.9" x2="320.4" y2="328.4" stroke="#333" stroke-width="1.2" />
<line x1="352.22" y1="579.4" x2="352.22" y2="574.9" stroke="#333" stroke-width="1.2" />
<line x1="352.22" y1="323.9" x2="352.22" y2="328.4" stroke="#333" stroke-width="1.2" />
<line x1="374.79" y1="579.4" x2="374.79" y2="574.9" stroke="#333" stroke-width="1.2" />
<line x1="374.79" y1="323.9" x2="374.79" y2="328.4" stroke="#333" stroke-width="1.2" />
<line x1="392.3" y1="579.4" x2="392.3" y2="574.9" stroke="#333" stroke-width="1.2" />
<line x1="392.3" y1="323.9" x2="392.3" y2="328.4" stroke="#333" stroke-width="1.2" />
<line x1="406.61" y1="579.4" x2="406.61" y2="574.9" stroke="#333" stroke-width="1.2" />
<line x1="406.61" y1="323.9" x2="406.61" y2="328.4" stroke="#333" stroke-width="1.2" />
<line x1="418.71" y1="579.4" x2="418.71" y2="574.9" stroke="#333" stroke-width="1.2" />
<line x1="418.71" y1="323.9" x2="418.71" y2="328.4" stroke="#333" stroke-width="1.2" />
<line x1="429.19" y1="579.4" x2="429.19" y2="574.9" stroke="#333" stroke-width="1.2" />
<line x1="429.19" y1="323.9" x2="429.19" y2="328.4" stroke="#333" stroke-width="1.2" />
<line x1="438.43" y1="579.4" x2="438.43" y2="574.9" stroke="#333" stroke-width="1.2" />
<line x1="438.43" y1="323.9" x2="438.43" y2="328.4" stroke="#333" stroke-width="1.2" />
<line x1="446.7" y1="579.4" x2="446.7" y2="571.4" stroke="#333" stroke-width="1.2" />
<line x1="446.7" y1="323.9" x2="446.7" y2="331.9" stroke="#333" stroke-width="1.2" />
<line x1="501.1" y1="579.4" x2="501.1" y2="574.9" stroke="#333" stroke-width="1.2" />
<line x1="501.1" y1="323.9" x2="501.1" y2="328.4" stroke="#333" stroke-width="1.2" />
<line x1="532.92" y1="579.4" x2="532.92" y2="574.9" stroke="#333" stroke-width="1.2" />
<line x1="532.92" y1="323.9" x2="532.92" y2="328.4" stroke="#333" stroke-width="1.2" />
<polyline points="132.6,574.4 133.06,574.4 133.52,574.4 133.97,574.4 134.43,574.4 134.89,574.4 135.35,574.4 135.8,574.4 136.26,574.4 136.72,574.4 137.18,574.4 137.64,574.4 138.09,574.39 138.55,574.39 139.01,574.39 139.47,574.39 139.93,574.39 140.38,574.39 140.84,574.39 141.3,574.39 141.76,574.39 142.21,574.38 142.67,574.38 143.13,574.38 143.59,574.38 144.05,574.38 144.5,574.38 144.96,574.37 145.42,574.37 145.88,574.37 146.34,574.37 146.79,574.37 147.25,574.37 147.71,574.36 148.17,574.36 148.62,574.36 149.08,574.36 149.54,574.36 150,574.35 150.46,574.35 150.91,574.35 151.37,574.35 151.83,574.34 152.29,574.34 152.74,574.34 153.2,574.34 153.66,574.33 154.12,574.33 154.58,574.33 155.03,574.33 155.49,574.33 155.95,574.32 156.41,574.32 156.87,574.32 157.32,574.32 157.78,574.31 158.24,574.31 158.7,574.31 159.15,574.3 159.61,574.3 160.07,574.3 160.53,574.3 160.99,574.29 161.44,574.29 161.9,574.29 162.36,574.28 162.82,574.28 163.27,574.28 163.73,574.27 164.19,574.27 164.65,574.27 165.11,574.26 165.56,574.26 166.02,574.25 166.48,574.25 166.94,574.24 167.39,574.24 167.85,574.23 168.31,574.23 168.77,574.22 169.23,574.22 169.68,574.21 170.14,574.21 170.6,574.2 171.06,574.19 171.52,574.19 171.97,574.18 172.43,574.18 172.89,574.17 173.35,574.16 173.8,574.16 174.26,574.15 174.72,574.14 175.18,574.14 175.64,574.13 176.09,574.12 176.55,574.12 177.01,574.11 177.47,574.1 177.92,574.09 178.38,574.09 178.84,574.08 179.3,574.07 179.76,574.06 180.21,574.06 180.67,574.05 181.13,574.04 181.59,574.03 182.04,574.03 182.5,574.02 182.96,574.01 183.42,574 183.88,573.99 184.33,573.99 184.79,573.98 185.25,573.97 185.71,573.96 186.16,573.95 186.62,573.94 187.08,573.94 187.54,573.93 188,573.92 188.45,573.91 188.91,573.9 189.37,573.89 189.83,573.89 190.28,573.88 190.74,573.87 191.2,573.86 191.66,573.85 192.12,573.84 192.57,573.84 193.03,573.83 193.49,573.82 193.95,573.81 194.4,573.8 194.86,573.79 195.32,573.78 195.78,573.78 196.24,573.77 196.69,573.76 197.15,573.75 197.61,573.74 198.07,573.73 198.52,573.73 198.98,573.72 199.44,573.71 199.9,573.7 200.36,573.69 200.81,573.69 201.27,573.68 201.73,573.67 202.19,573.66 202.64,573.65 203.1,573.65 203.56,573.64 204.02,573.63 204.48,573.62 204.93,573.61 205.39,573.61 205.85,573.6 206.31,573.59 206.76,573.58 207.22,573.57 207.68,573.56 208.14,573.56 208.6,573.55 209.05,573.54 209.51,573.53 209.97,573.52 210.43,573.52 210.88,573.51 211.34,573.5 211.8,573.49 212.26,573.48 212.72,573.48 213.17,573.47 213.63,573.46 214.09,573.45 214.55,573.44 215,573.43 215.46,573.43 215.92,573.42 216.38,573.41 216.84,573.4 217.29,573.39 217.75,573.38 218.21,573.37 218.67,573.37 219.13,573.36 219.58,573.35 220.04,573.34 220.5,573.33 220.96,573.32 221.41,573.31 221.87,573.3 222.33,573.3 222.79,573.29 223.25,573.28 223.7,573.27 224.16,573.26 224.62,573.25 225.08,573.24 225.53,573.23 225.99,573.22 226.45,573.21 226.91,573.2 227.37,573.19 227.82,573.18 228.28,573.17 228.74,573.16 229.2,573.15 229.65,573.14 230.11,573.13 230.57,573.12 231.03,573.11 231.49,573.1 231.94,573.09 232.4,573.08 232.86,573.07 233.32,573.06 233.77,573.05 234.23,573.04 234.69,573.03 235.15,573.02 235.6,573.01 236.06,572.99 236.52,572.98 236.98,572.97 237.44,572.96 237.89,572.95 238.35,572.94 238.81,572.92 239.27,572.91 239.72,572.9 240.18,572.89 240.64,572.88 241.1,572.86 241.55,572.85 242.01,572.84 242.47,572.83 242.93,572.81 243.38,572.8 243.84,572.79 244.3,572.77 244.76,572.76 245.21,572.75 245.67,572.73 246.13,572.72 246.59,572.71 247.04,572.69 247.5,572.68 247.96,572.66 248.42,572.65 248.87,572.64 249.33,572.62 249.79,572.61 250.25,572.59 250.7,572.58 251.16,572.56 251.62,572.55 252.08,572.53 252.54,572.51 252.99,572.5 253.45,572.48 253.91,572.47 254.37,572.45 254.83,572.43 255.28,572.41 255.74,572.4 256.2,572.38 256.66,572.36 257.12,572.34 257.57,572.32 258.03,572.3 258.49,572.28 258.95,572.26 259.41,572.24 259.86,572.22 260.32,572.2 260.78,572.18 261.24,572.16 261.7,572.14 262.15,572.11 262.61,572.09 263.07,572.07 263.53,572.04 263.99,572.02 264.44,571.99 264.9,571.97 265.36,571.94 265.82,571.92 266.27,571.89 266.73,571.87 267.19,571.84 267.64,571.81 268.1,571.78 268.56,571.76 269.01,571.73 269.47,571.7 269.93,571.67 270.38,571.64 270.84,571.61 271.3,571.57 271.75,571.54 272.21,571.51 272.66,571.48 273.12,571.44 273.57,571.41 274.03,571.38 274.48,571.34 274.94,571.3 275.39,571.27 275.85,571.23 276.3,571.19 276.75,571.15 277.21,571.1 277.66,571.06 278.12,571.01 278.57,570.96 279.03,570.9 279.48,570.85 279.94,570.8 280.39,570.74 280.84,570.68 281.3,570.62 281.75,570.56 282.21,570.5 282.66,570.43 283.11,570.36 283.57,570.3 284.02,570.23 284.47,570.16 284.93,570.09 285.38,570.01 285.83,569.94 286.29,569.86 286.74,569.79 287.19,569.71 287.64,569.63 288.1,569.55 288.55,569.47 289,569.39 289.45,569.31 289.9,569.23 290.35,569.14 290.81,569.06 291.26,568.97 291.71,568.88 292.16,568.8 292.61,568.71 293.06,568.62 293.51,568.53 293.96,568.44 294.41,568.35 294.86,568.26 295.31,568.17 295.76,568.08 296.21,567.99 296.66,567.9 297.1,567.8 297.55,567.71 298,567.62 298.45,567.52 298.9,567.43 299.34,567.34 299.79,567.24 300.24,567.15 300.68,567.06 301.13,566.96 301.58,566.86 302.02,566.76 302.47,566.66 302.92,566.55 303.36,566.45 303.81,566.34 304.25,566.23 304.7,566.12 305.14,566 305.59,565.89 306.03,565.77 306.48,565.65 306.92,565.53 307.36,565.41 307.81,565.28 308.25,565.16 308.69,565.03 309.13,564.9 309.56,564.77 310,564.64 310.44,564.5 310.87,564.36 311.31,564.23 311.74,564.08 312.17,563.94 312.6,563.8 313.03,563.65 313.46,563.49 313.89,563.33 314.32,563.17 314.74,563 315.17,562.83 315.59,562.66 316.02,562.49 316.44,562.31 316.86,562.13 317.29,561.95 317.71,561.76 318.13,561.58 318.55,561.39 318.97,561.2 319.38,561.01 319.8,560.82 320.22,560.63 320.63,560.43 321.05,560.24 321.47,560.05 321.88,559.86 322.3,559.66 322.71,559.47 323.13,559.28 323.55,559.09 323.97,558.9 324.39,558.71 324.82,558.51 325.24,558.32 325.65,558.12 326.07,557.92 326.49,557.71 326.9,557.51 327.31,557.3 327.71,557.08 328.11,556.86 328.51,556.64 328.9,556.41 329.28,556.17 329.66,555.93 330.03,555.68 330.4,555.42 330.76,555.16 331.13,554.88 331.49,554.6 331.85,554.3 332.21,554 332.56,553.7 332.91,553.38 333.25,553.06 333.58,552.74 333.91,552.41 334.23,552.08 334.54,551.74 334.84,551.4 335.13,551.05 335.42,550.71 335.69,550.36 335.95,550 336.21,549.63 336.47,549.26 336.72,548.89 336.97,548.5 337.21,548.11 337.45,547.72 337.69,547.32 337.92,546.92 338.14,546.51 338.36,546.1 338.58,545.69 338.79,545.27 339,544.86 339.21,544.44 339.41,544.02 339.6,543.61 339.8,543.19 339.99,542.77 340.17,542.36 340.35,541.94 340.53,541.52 340.69,541.09 340.84,540.66 340.99,540.23 341.14,539.79 341.28,539.35 341.42,538.91 341.56,538.47 341.71,538.03 341.85,537.59 342,537.16 342.15,536.72 342.31,536.3 342.47,535.87 342.65,535.45 342.83,535.04 343.03,534.62 343.25,534.14 343.47,533.64 343.71,533.12 343.96,532.62 344.22,532.15 344.47,531.76 344.73,531.45 344.99,531.26 345.23,531.2 345.49,531.29 345.77,531.51 346.05,531.84 346.33,532.25 346.61,532.71 346.87,533.21 347.12,533.72 347.34,534.22 347.52,534.69 347.67,535.11 347.8,535.53 347.93,535.95 348.04,536.39 348.14,536.83 348.24,537.27 348.33,537.72 348.41,538.17 348.49,538.63 348.57,539.09 348.65,539.55 348.72,540.01 348.8,540.47 348.88,540.93 348.97,541.39 349.06,541.84 349.15,542.3 349.26,542.74 349.37,543.19 349.49,543.63 349.61,544.09 349.73,544.56 349.85,545.03 349.98,545.51 350.11,545.99 350.25,546.46 350.39,546.93 350.54,547.39 350.7,547.83 350.87,548.25 351.06,548.65 351.25,549.02 351.45,549.36 351.67,549.67 351.93,549.96 352.23,550.26 352.58,550.56 352.97,550.86 353.39,551.13 353.83,551.39 354.29,551.61 354.75,551.79 355.21,551.92 355.65,551.99 356.08,552 356.52,552 356.97,552 357.43,552 357.89,552 358.36,552 358.82,552 359.29,552 359.76,552 360.23,552 360.69,552 361.14,552 361.58,552 362.02,551.96 362.46,551.89 362.89,551.79 363.32,551.67 363.75,551.52 364.18,551.35 364.6,551.16 365.02,550.96 365.45,550.75 365.87,550.54 366.29,550.32 366.72,550.1 367.14,549.89 367.56,549.69 367.99,549.49 368.42,549.32 368.85,549.16 369.29,549.02 369.72,548.87 370.15,548.73 370.59,548.58 371.02,548.43 371.45,548.27 371.88,548.11 372.31,547.95 372.74,547.79 373.16,547.63 373.59,547.46 374.01,547.29 374.44,547.11 374.86,546.94 375.28,546.76 375.7,546.58 376.12,546.4 376.54,546.21 376.96,546.02 377.38,545.83 377.79,545.64 378.21,545.45 378.62,545.25 379.03,545.05 379.44,544.85 379.85,544.65 380.26,544.44 380.67,544.24 381.08,544.03 381.48,543.81 381.89,543.6 382.29,543.38 382.7,543.17 383.1,542.95 383.5,542.73 383.9,542.5 384.3,542.28 384.69,542.05 385.09,541.82 385.48,541.59 385.88,541.36 386.27,541.12 386.66,540.88 387.06,540.65 387.45,540.41 387.83,540.16 388.22,539.92 388.61,539.68 388.99,539.43 389.38,539.18 389.76,538.93 390.15,538.68 390.53,538.43 390.91,538.17 391.29,537.92 391.66,537.66 392.04,537.4 392.42,537.14 392.79,536.88 393.17,536.61 393.54,536.35 393.91,536.08 394.29,535.81 394.66,535.54 395.03,535.27 395.39,535 395.76,534.73 396.13,534.45 396.49,534.18 396.86,533.9 397.22,533.62 397.58,533.34 397.95,533.06 398.31,532.78 398.67,532.5 399.02,532.21 399.38,531.93 399.74,531.64 400.09,531.35 400.45,531.06 400.8,530.77 401.16,530.48 401.51,530.19 401.86,529.9 402.21,529.6 402.56,529.31 402.91,529.01 403.26,528.71 403.6,528.41 403.95,528.11 404.3,527.81 404.64,527.51 404.98,527.21 405.33,526.9 405.67,526.6 406.01,526.29 406.35,525.99 406.69,525.68 407.03,525.37 407.36,525.06 407.7,524.75 408.04,524.44 408.37,524.13 408.71,523.81 409.04,523.5 409.37,523.19 409.7,522.87 410.03,522.55 410.36,522.24 410.69,521.92 411.02,521.6 411.35,521.28 411.68,520.96 412,520.64 412.33,520.32 412.65,520 412.98,519.67 413.3,519.35 413.62,519.02 413.95,518.7 414.27,518.37 414.59,518.04 414.91,517.72 415.23,517.39 415.54,517.06 415.86,516.73 416.18,516.4 416.49,516.07 416.81,515.73 417.12,515.4 417.44,515.07 417.75,514.73 418.06,514.4 418.38,514.07 418.69,513.73 419,513.39 419.31,513.06 419.62,512.72 419.93,512.38 420.23,512.04 420.54,511.7 420.85,511.36 421.15,511.02 421.46,510.68 421.76,510.34 422.07,510 422.37,509.65 422.67,509.31 422.98,508.97 423.28,508.62 423.58,508.28 423.88,507.93 424.18,507.58 424.48,507.24 424.77,506.89 425.07,506.54 425.37,506.19 425.67,505.84 425.96,505.5 426.26,505.15 426.55,504.8 426.85,504.44 427.14,504.09 427.43,503.74 427.73,503.39 428.02,503.04 428.31,502.68 428.6,502.33 428.89,501.98 429.18,501.62 429.47,501.27 429.76,500.91 430.05,500.56 430.33,500.2 430.62,499.84 430.91,499.49 431.19,499.13 431.48,498.77 431.76,498.41 432.05,498.05 432.33,497.69 432.61,497.33 432.9,496.97 433.18,496.61 433.46,496.25 433.74,495.89 434.02,495.53 434.3,495.17 434.58,494.8 434.86,494.44 435.14,494.08 435.42,493.71 435.7,493.35 435.97,492.99 436.25,492.62 436.53,492.26 436.8,491.89 437.08,491.52 437.35,491.16 437.63,490.79 437.9,490.42 438.17,490.06 438.45,489.69 438.72,489.32 438.99,488.95 439.26,488.59 439.53,488.22 439.8,487.85 440.07,487.48 440.34,487.11 440.61,486.74 440.88,486.37 441.15,486 441.42,485.62 441.69,485.25 441.95,484.88 442.22,484.51 442.49,484.14 442.75,483.76 443.02,483.39 443.28,483.02 443.55,482.64 443.81,482.27 444.07,481.89 444.34,481.52 444.6,481.14 444.86,480.77 445.12,480.39 445.39,480.02 445.65,479.64 445.91,479.27 446.17,478.89 446.43,478.51 446.69,478.14 446.95,477.76 447.21,477.38 447.46,477 447.72,476.62 447.98,476.25 448.24,475.87 448.49,475.49 448.75,475.11 449.01,474.73 449.26,474.35 449.52,473.97 449.77,473.59 450.03,473.21 450.28,472.83 450.53,472.45 450.79,472.07 451.04,471.68 451.29,471.3 451.55,470.92 451.8,470.54 452.05,470.15 452.3,469.77 452.55,469.39 452.8,469.01 453.05,468.62 453.3,468.24 453.55,467.85 453.8,467.47 454.05,467.09 454.3,466.7 454.55,466.32 454.79,465.93 455.04,465.55 455.29,465.16 455.53,464.78 455.78,464.39 456.03,464 456.27,463.62 456.52,463.23 456.76,462.84 457.01,462.46 457.25,462.07 457.5,461.68 457.74,461.3 457.98,460.91 458.23,460.52 458.47,460.13 458.71,459.74 458.95,459.35 459.2,458.97 459.44,458.58 459.68,458.19 459.92,457.8 460.16,457.41 460.4,457.02 460.64,456.63 460.88,456.24 461.12,455.85 461.36,455.46 461.6,455.07 461.83,454.68 462.07,454.29 462.31,453.89 462.55,453.5 462.79,453.11 463.02,452.72 463.26,452.33 463.5,451.94 463.73,451.54 463.97,451.15 464.2,450.76 464.44,450.37 464.67,449.97 464.91,449.58 465.14,449.19 465.38,448.79 465.61,448.4 465.84,448 466.08,447.61 466.31,447.22 466.54,446.82 466.77,446.43 467.01,446.03 467.24,445.64 467.47,445.24 467.7,444.85 467.93,444.45 468.16,444.06 468.39,443.66 468.62,443.27 468.85,442.87 469.08,442.47 469.31,442.08 469.54,441.68 469.77,441.29 470,440.89 470.23,440.49 470.46,440.09 470.68,439.7 470.91,439.3 471.14,438.9 471.37,438.51 471.59,438.11 471.82,437.71 472.05,437.31 472.27,436.91 472.5,436.52 472.72,436.12 472.95,435.72 473.17,435.32 473.4,434.92 473.62,434.52 473.85,434.12 474.07,433.72 474.3,433.33 474.52,432.93 474.74,432.53 474.97,432.13 475.19,431.73 475.41,431.33 475.64,430.93 475.86,430.53 476.08,430.13 476.3,429.73 476.53,429.33 476.75,428.93 476.97,428.53 477.19,428.13 477.41,427.72 477.63,427.32 477.86,426.92 478.08,426.52 478.3,426.12 478.52,425.72 478.74,425.32 478.96,424.92 479.18,424.52 479.4,424.11 479.62,423.71 479.84,423.31 480.06,422.91 480.28,422.51 480.5,422.1 480.72,421.7 480.93,421.3 481.15,420.9 481.37,420.5 481.59,420.09 481.81,419.69 482.03,419.29 482.24,418.89 482.46,418.48 482.68,418.08 482.9,417.68 483.12,417.28 483.33,416.87 483.55,416.47 483.77,416.07 483.99,415.66 484.2,415.26 484.42,414.86 484.64,414.45 484.85,414.05 485.07,413.65 485.29,413.24 485.5,412.84 485.72,412.44 485.94,412.03 486.15,411.63 486.37,411.23 486.58,410.82 486.8,410.42 487.02,410.02 487.23,409.61 487.45,409.21 487.66,408.8 487.88,408.4 488.09,408 488.31,407.59 488.52,407.19 488.74,406.78 488.95,406.38 489.17,405.98 489.38,405.57 489.6,405.17 489.81,404.76 490.03,404.36 490.24,403.95 490.46,403.55 490.67,403.15 490.89,402.74 491.1,402.34 491.32,401.93 491.53,401.53 491.75,401.12 491.96,400.72 492.18,400.31 492.39,399.91 492.61,399.51 492.82,399.1 493.03,398.7 493.25,398.29 493.46,397.89 493.68,397.48 493.89,397.08 494.11,396.67 494.32,396.27 494.53,395.86 494.75,395.46 494.96,395.06 495.18,394.65 495.39,394.25 495.6,393.84 495.82,393.44 496.03,393.03 496.25,392.63 496.46,392.22 496.68,391.82 496.89,391.41 497.1,391.01 497.32,390.6 497.53,390.2 497.75,389.79 497.96,389.39 498.17,388.99 498.39,388.58 498.6,388.18 498.82,387.77 499.03,387.37 499.25,386.96 499.46,386.56 499.67,386.15 499.89,385.75 500.1,385.34 500.32,384.94 500.53,384.54 500.75,384.13 500.96,383.73 501.18,383.32 501.39,382.92 501.61,382.51 501.82,382.11 502.04,381.7 502.25,381.3 502.47,380.9 502.68,380.49 502.9,380.09 503.11,379.68 503.33,379.28 503.54,378.88 503.76,378.47 503.97,378.07 504.19,377.66 504.4,377.26 504.62,376.85 504.83,376.45 505.05,376.05 505.26,375.64 505.48,375.24 505.7,374.84 505.91,374.43 506.13,374.03 506.34,373.63 506.56,373.22 506.78,372.82 506.99,372.41 507.21,372.01 507.43,371.61 507.64,371.2 507.86,370.8 508.08,370.4 508.29,370 508.51,369.59 508.73,369.19 508.95,368.79 509.16,368.38 509.38,367.98 509.6,367.58 509.82,367.17 510.04,366.77 510.25,366.37 510.47,365.97 510.69,365.56 510.91,365.16 511.13,364.76 511.35,364.36 511.56,363.96 511.78,363.55 512,363.15 512.22,362.75 512.44,362.35 512.66,361.95 512.88,361.54 513.1,361.14 513.32,360.74 513.54,360.34 513.76,359.94 513.98,359.54 514.2,359.14 514.42,358.74 514.64,358.33 514.87,357.93 515.09,357.53 515.31,357.13 515.53,356.73 515.75,356.33 515.97,355.93 516.2,355.53 516.42,355.13 516.64,354.73 516.87,354.33 517.09,353.93 517.31,353.53 517.54,353.13 517.76,352.73 517.98,352.33 518.21,351.93 518.43,351.54 518.66,351.14 518.88,350.74 519.11,350.34 519.33,349.94 519.56,349.54 519.79,349.14 520.01,348.75 520.24,348.35 520.47,347.95 520.69,347.55 520.92,347.16 521.15,346.76 521.38,346.36 521.61,345.97 521.83,345.57 522.06,345.17 522.29,344.78 522.52,344.38 522.75,343.99 522.98,343.59 523.21,343.19 523.45,342.8 523.68,342.4 523.91,342.01 524.14,341.62 524.37,341.22 524.61,340.83 524.84,340.43 525.08,340.04 525.31,339.65 525.54,339.25 525.78,338.86 526.02,338.47 526.25,338.08 526.49,337.68 526.73,337.29 526.97,336.91 527.21,336.52 527.44,336.12 527.66,335.72 527.86,335.3 528.05,334.88 528.23,334.46 528.41,334.03 528.58,333.6 528.76,333.17 528.94,332.74 529.13,332.32 529.32,331.91 529.53,331.51 529.76,331.13 530,330.75 530.27,330.39 530.56,330.03 530.87,329.68 531.2,329.35 531.53,329.03 531.87,328.74 532.23,328.46 532.6,328.2 532.99,327.95 533.39,327.72 533.8,327.5" fill="none" stroke="#000" stroke-width="3.4" stroke-linejoin="round" stroke-linecap="round" />
<rect x="85.5" y="323.9" width="452.7" height="255.5" fill="none" stroke="#2e2e2e" stroke-width="1.25"/>
<text x="76.4" y="580.05" font-size="17.6" text-anchor="end" fill="#111" >0</text>
<text x="76.4" y="524.45" font-size="17.6" text-anchor="end" fill="#111" >50</text>
<text x="76.4" y="468.85" font-size="17.6" text-anchor="end" fill="#111" >100</text>
<text x="76.4" y="413.25" font-size="17.6" text-anchor="end" fill="#111" >150</text>
<text x="76.4" y="357.65" font-size="17.6" text-anchor="end" fill="#111" >200</text>
<text x="94" y="603.4" font-size="17.4" text-anchor="middle" fill="#111" >1</text>
<text x="275" y="603.4" font-size="17.4" text-anchor="middle" fill="#111" >10</text>
<text x="455.8" y="603.4" font-size="17.4" text-anchor="middle" fill="#111" >100</text>
<text x="333.5" y="635.9" font-size="19" text-anchor="middle" fill="#111" >Temperature (K)</text>
<text x="22.2" y="451" font-size="19.2" text-anchor="middle" fill="#111" transform="rotate(-90 22.2 451)" >C<tspan font-style="italic" font-size="13.5" dy="5">p</tspan><tspan dy="-5"> (J mol</tspan><tspan font-size="12.5" dy="-7.5">-1</tspan><tspan dy="7.5"> K</tspan><tspan font-size="12.5" dy="-7.5">-1</tspan><tspan dy="7.5">)</tspan></text>
<rect x="90" y="552" width="30" height="20" fill="#fff"/>
<text x="91.5" y="570.2" font-size="22.5" text-anchor="start" fill="#111" >(b)</text>
<line x1="139.1" y1="337.8" x2="139.1" y2="505" stroke="#8a8a8a" stroke-width="1" />
<line x1="139.1" y1="505.2" x2="296.7" y2="505.2" stroke="#666" stroke-width="1" />
<line x1="139.1" y1="505.3" x2="144.1" y2="505.3" stroke="#8a8a8a" stroke-width="1" />
<line x1="139.1" y1="484.46" x2="142.1" y2="484.46" stroke="#8a8a8a" stroke-width="1" />
<line x1="139.1" y1="463.62" x2="144.1" y2="463.62" stroke="#8a8a8a" stroke-width="1" />
<line x1="139.1" y1="442.78" x2="142.1" y2="442.78" stroke="#8a8a8a" stroke-width="1" />
<line x1="139.1" y1="421.94" x2="144.1" y2="421.94" stroke="#8a8a8a" stroke-width="1" />
<line x1="139.1" y1="401.1" x2="142.1" y2="401.1" stroke="#8a8a8a" stroke-width="1" />
<line x1="139.1" y1="380.26" x2="144.1" y2="380.26" stroke="#8a8a8a" stroke-width="1" />
<line x1="139.1" y1="359.42" x2="142.1" y2="359.42" stroke="#8a8a8a" stroke-width="1" />
<line x1="139.1" y1="338.58" x2="144.1" y2="338.58" stroke="#8a8a8a" stroke-width="1" />
<line x1="158.05" y1="505.2" x2="158.05" y2="502.2" stroke="#666" stroke-width="1" />
<line x1="169.02" y1="505.2" x2="169.02" y2="502.2" stroke="#666" stroke-width="1" />
<line x1="176.81" y1="505.2" x2="176.81" y2="502.2" stroke="#666" stroke-width="1" />
<line x1="182.85" y1="505.2" x2="182.85" y2="502.2" stroke="#666" stroke-width="1" />
<line x1="187.78" y1="505.2" x2="187.78" y2="502.2" stroke="#666" stroke-width="1" />
<line x1="191.95" y1="505.2" x2="191.95" y2="502.2" stroke="#666" stroke-width="1" />
<line x1="195.56" y1="505.2" x2="195.56" y2="502.2" stroke="#666" stroke-width="1" />
<line x1="198.75" y1="505.2" x2="198.75" y2="502.2" stroke="#666" stroke-width="1" />
<line x1="201.6" y1="505.2" x2="201.6" y2="500.2" stroke="#666" stroke-width="1" />
<line x1="220.35" y1="505.2" x2="220.35" y2="502.2" stroke="#666" stroke-width="1" />
<line x1="231.32" y1="505.2" x2="231.32" y2="502.2" stroke="#666" stroke-width="1" />
<line x1="239.11" y1="505.2" x2="239.11" y2="502.2" stroke="#666" stroke-width="1" />
<line x1="245.15" y1="505.2" x2="245.15" y2="502.2" stroke="#666" stroke-width="1" />
<line x1="250.08" y1="505.2" x2="250.08" y2="502.2" stroke="#666" stroke-width="1" />
<line x1="254.25" y1="505.2" x2="254.25" y2="502.2" stroke="#666" stroke-width="1" />
<line x1="257.86" y1="505.2" x2="257.86" y2="502.2" stroke="#666" stroke-width="1" />
<line x1="261.05" y1="505.2" x2="261.05" y2="502.2" stroke="#666" stroke-width="1" />
<line x1="263.9" y1="505.2" x2="263.9" y2="500.2" stroke="#666" stroke-width="1" />
<line x1="282.65" y1="505.2" x2="282.65" y2="502.2" stroke="#666" stroke-width="1" />
<line x1="293.62" y1="505.2" x2="293.62" y2="502.2" stroke="#666" stroke-width="1" />
<text x="134.3" y="509.74" font-size="12.9" text-anchor="end" fill="#111" >0.0</text>
<text x="134.3" y="468.06" font-size="12.9" text-anchor="end" fill="#111" >0.4</text>
<text x="134.3" y="426.38" font-size="12.9" text-anchor="end" fill="#111" >0.8</text>
<text x="134.3" y="384.7" font-size="12.9" text-anchor="end" fill="#111" >1.2</text>
<text x="134.3" y="343.02" font-size="12.9" text-anchor="end" fill="#111" >1.6</text>
<text x="139.3" y="519.84" font-size="12.9" text-anchor="middle" fill="#111" >1</text>
<text x="201.6" y="519.84" font-size="12.9" text-anchor="middle" fill="#111" >10</text>
<text x="263.9" y="519.84" font-size="12.9" text-anchor="middle" fill="#111" >100</text>
<text x="218.5" y="540.9" font-size="13.8" text-anchor="middle" fill="#111" ><tspan font-style="italic">T</tspan> (K)</text>
<text x="98.6" y="417.2" font-size="13.8" text-anchor="middle" fill="#111" transform="rotate(-90 98.6 417.2)" >C<tspan font-size="9.5" dy="3.3">p</tspan><tspan dy="-3.3">/T (J/mol K</tspan><tspan font-size="9.5" dy="-5.5">2</tspan><tspan dy="5.5">)</tspan></text>
<g fill="none" stroke="#5a5a5a" stroke-width="0.45"><circle cx="168" cy="504.6" r="1.35"/><circle cx="170" cy="504.57" r="1.35"/><circle cx="172" cy="504.48" r="1.35"/><circle cx="173.99" cy="504.35" r="1.35"/><circle cx="175.99" cy="504.2" r="1.35"/><circle cx="177.97" cy="503.97" r="1.35"/><circle cx="179.94" cy="503.61" r="1.35"/><circle cx="181.89" cy="503.16" r="1.35"/><circle cx="183.82" cy="502.65" r="1.35"/><circle cx="185.73" cy="502.05" r="1.35"/><circle cx="187.59" cy="501.3" r="1.35"/><circle cx="189.39" cy="500.45" r="1.35"/><circle cx="191.16" cy="499.51" r="1.35"/><circle cx="192.86" cy="498.46" r="1.35"/><circle cx="194.48" cy="497.28" r="1.35"/><circle cx="196.04" cy="496.03" r="1.35"/><circle cx="197.54" cy="494.71" r="1.35"/><circle cx="198.99" cy="493.33" r="1.35"/><circle cx="200.37" cy="491.88" r="1.35"/><circle cx="201.69" cy="490.38" r="1.35"/><circle cx="202.97" cy="488.84" r="1.35"/><circle cx="204.19" cy="487.26" r="1.35"/><circle cx="205.35" cy="485.63" r="1.35"/><circle cx="206.46" cy="483.97" r="1.35"/><circle cx="207.53" cy="482.28" r="1.35"/><circle cx="208.56" cy="480.56" r="1.35"/><circle cx="209.54" cy="478.82" r="1.35"/><circle cx="210.49" cy="477.06" r="1.35"/><circle cx="211.39" cy="475.28" r="1.35"/></g>
<g fill="none" stroke="#333" stroke-width="0.62"><circle cx="153.9" cy="504.4" r="1.45"/><circle cx="156.51" cy="504.39" r="1.45"/><circle cx="159.12" cy="504.35" r="1.45"/><circle cx="161.73" cy="504.29" r="1.45"/><circle cx="164.34" cy="504.22" r="1.45"/><circle cx="166.94" cy="504.1" r="1.45"/><circle cx="169.55" cy="503.88" r="1.45"/><circle cx="172.14" cy="503.61" r="1.45"/><circle cx="174.73" cy="503.26" r="1.45"/><circle cx="177.31" cy="502.81" r="1.45"/><circle cx="179.88" cy="502.23" r="1.45"/><circle cx="182.37" cy="501.42" r="1.45"/><circle cx="184.8" cy="500.39" r="1.45"/><circle cx="187.12" cy="499.19" r="1.45"/><circle cx="189.31" cy="497.76" r="1.45"/><circle cx="191.41" cy="496.16" r="1.45"/><circle cx="193.42" cy="494.5" r="1.45"/><circle cx="195.38" cy="492.72" r="1.45"/><circle cx="197.22" cy="490.86" r="1.45"/><circle cx="199.03" cy="488.97" r="1.45"/><circle cx="200.84" cy="487.08" r="1.45"/><circle cx="202.62" cy="485.16" r="1.45"/><circle cx="204.31" cy="483.12" r="1.45"/><circle cx="205.83" cy="480.97" r="1.45"/><circle cx="207.23" cy="478.76" r="1.45"/><circle cx="208.59" cy="476.52" r="1.45"/><circle cx="209.94" cy="474.29" r="1.45"/><circle cx="211.28" cy="472.04" r="1.45"/><circle cx="212.48" cy="469.73" r="1.45"/><circle cx="213.55" cy="467.35" r="1.45"/><circle cx="214.55" cy="464.93" r="1.45"/><circle cx="215.48" cy="462.5" r="1.45"/><circle cx="216.37" cy="460.05" r="1.45"/><circle cx="217.23" cy="457.58" r="1.45"/><circle cx="218.05" cy="455.1" r="1.45"/><circle cx="218.82" cy="452.6" r="1.45"/><circle cx="219.53" cy="450.09" r="1.45"/><circle cx="220.2" cy="447.57" r="1.45"/><circle cx="220.83" cy="445.04" r="1.45"/><circle cx="221.39" cy="442.49" r="1.45"/><circle cx="221.89" cy="439.8" r="1.45"/><circle cx="222.39" cy="436.61" r="1.45"/><circle cx="222.9" cy="432.92" r="1.45"/><circle cx="223.4" cy="428.98" r="1.45"/><circle cx="223.91" cy="424.63" r="1.45"/><circle cx="224.41" cy="420.19" r="1.45"/><circle cx="224.91" cy="415.84" r="1.45"/><circle cx="225.41" cy="410.6" r="1.45"/><circle cx="225.89" cy="404.6" r="1.45"/><circle cx="226.28" cy="398.6" r="1.45"/><circle cx="226.61" cy="392.6" r="1.45"/><circle cx="226.89" cy="386.59" r="1.45"/><circle cx="227.13" cy="380.58" r="1.45"/><circle cx="227.34" cy="374.57" r="1.45"/><circle cx="227.54" cy="368.55" r="1.45"/><circle cx="227.75" cy="362.53" r="1.45"/><circle cx="228.3" cy="364.19" r="1.45"/><circle cx="228.46" cy="370.2" r="1.45"/><circle cx="228.58" cy="376.21" r="1.45"/><circle cx="228.68" cy="382.23" r="1.45"/><circle cx="228.81" cy="388.24" r="1.45"/><circle cx="228.95" cy="394.25" r="1.45"/><circle cx="229.11" cy="400.27" r="1.45"/><circle cx="229.28" cy="406.28" r="1.45"/><circle cx="229.47" cy="412.29" r="1.45"/><circle cx="229.69" cy="418.3" r="1.45"/><circle cx="229.94" cy="424.31" r="1.45"/><circle cx="230.27" cy="430.32" r="1.45"/><circle cx="230.78" cy="435.48" r="1.45"/><circle cx="231.29" cy="438.43" r="1.45"/><circle cx="231.8" cy="440.32" r="1.45"/><circle cx="232.46" cy="441.91" r="1.45"/><circle cx="233.44" cy="443.33" r="1.45"/><circle cx="234.74" cy="444.44" r="1.45"/><circle cx="236.44" cy="444.71" r="1.45"/><circle cx="237.99" cy="443.96" r="1.45"/><circle cx="240.04" cy="442.34" r="1.45"/><circle cx="242" cy="440.58" r="1.45"/><circle cx="243.74" cy="438.6" r="1.45"/><circle cx="245.32" cy="436.53" r="1.45"/><circle cx="246.89" cy="434.45" r="1.45"/><circle cx="248.5" cy="432.4" r="1.45"/><circle cx="250.08" cy="430.32" r="1.45"/><circle cx="251.65" cy="428.23" r="1.45"/><circle cx="253.26" cy="426.18" r="1.45"/><circle cx="254.92" cy="424.16" r="1.45"/><circle cx="256.61" cy="422.14" r="1.45"/><circle cx="258.35" cy="420.18" r="1.45"/><circle cx="260.24" cy="418.36" r="1.45"/><circle cx="262.24" cy="416.68" r="1.45"/><circle cx="264.36" cy="415.15" r="1.45"/><circle cx="266.65" cy="413.87" r="1.45"/><circle cx="269.03" cy="412.81" r="1.45"/><circle cx="271.56" cy="412.12" r="1.45"/><circle cx="274.15" cy="412.35" r="1.45"/><circle cx="276.65" cy="413.09" r="1.45"/><circle cx="279.09" cy="414.11" r="1.45"/><circle cx="281.35" cy="415.42" r="1.45"/><circle cx="283.32" cy="417.17" r="1.45"/><circle cx="285.11" cy="419.08" r="1.45"/><circle cx="286.85" cy="421.03" r="1.45"/><circle cx="288.54" cy="423.05" r="1.45"/><circle cx="290.12" cy="425.13" r="1.45"/><circle cx="291.6" cy="427.3" r="1.45"/><circle cx="228" cy="357.6" r="1.45"/></g>
<line x1="337.5" y1="330" x2="337.5" y2="444.6" stroke="#8a8a8a" stroke-width="1" />
<line x1="337.5" y1="444.6" x2="452.7" y2="444.6" stroke="#666" stroke-width="1" />
<line x1="337.5" y1="444" x2="342.5" y2="444" stroke="#8a8a8a" stroke-width="1" />
<line x1="337.5" y1="421.12" x2="340.5" y2="421.12" stroke="#8a8a8a" stroke-width="1" />
<line x1="337.5" y1="398.25" x2="342.5" y2="398.25" stroke="#8a8a8a" stroke-width="1" />
<line x1="337.5" y1="375.38" x2="340.5" y2="375.38" stroke="#8a8a8a" stroke-width="1" />
<line x1="337.5" y1="352.5" x2="342.5" y2="352.5" stroke="#8a8a8a" stroke-width="1" />
<line x1="337.5" y1="329.62" x2="340.5" y2="329.62" stroke="#8a8a8a" stroke-width="1" />
<line x1="337.5" y1="444.6" x2="337.5" y2="439.6" stroke="#666" stroke-width="1" />
<line x1="356.7" y1="444.6" x2="356.7" y2="441.6" stroke="#666" stroke-width="1" />
<line x1="375.9" y1="444.6" x2="375.9" y2="439.6" stroke="#666" stroke-width="1" />
<line x1="395.1" y1="444.6" x2="395.1" y2="441.6" stroke="#666" stroke-width="1" />
<line x1="414.3" y1="444.6" x2="414.3" y2="439.6" stroke="#666" stroke-width="1" />
<line x1="433.5" y1="444.6" x2="433.5" y2="441.6" stroke="#666" stroke-width="1" />
<line x1="452.7" y1="444.6" x2="452.7" y2="439.6" stroke="#666" stroke-width="1" />
<text x="332.2" y="448.54" font-size="13.2" text-anchor="end" fill="#111" >0</text>
<text x="332.2" y="402.79" font-size="13.2" text-anchor="end" fill="#111" >5</text>
<text x="332.2" y="357.04" font-size="13.2" text-anchor="end" fill="#111" >10</text>
<text x="337.5" y="460.44" font-size="13.2" text-anchor="middle" fill="#111" >0</text>
<text x="375.9" y="460.44" font-size="13.2" text-anchor="middle" fill="#111" >20</text>
<text x="414.3" y="460.44" font-size="13.2" text-anchor="middle" fill="#111" >40</text>
<text x="452.7" y="460.44" font-size="13.2" text-anchor="middle" fill="#111" >60</text>
<text x="403.6" y="482" font-size="13.8" text-anchor="middle" fill="#111" ><tspan font-style="italic">T</tspan> (K)</text>
<text x="312.8" y="397.4" font-size="14.1" text-anchor="middle" fill="#111" transform="rotate(-90 312.8 397.4)" >S<tspan font-size="9.8" dy="3.4">m</tspan><tspan dy="-3.4"> (J mol</tspan><tspan font-size="9.8" dy="-5.6">-1</tspan><tspan dy="5.6"> K</tspan><tspan font-size="9.8" dy="-5.6">-1</tspan><tspan dy="5.6">)</tspan></text>
<g fill="none" stroke="#f51e1e" stroke-width="0.75"><rect x="336.2" y="441" width="4.6" height="4.6"/><rect x="337.48" y="441" width="4.6" height="4.6"/><rect x="338.75" y="441" width="4.6" height="4.6"/><rect x="340.02" y="441" width="4.6" height="4.6"/><rect x="341.29" y="441" width="4.6" height="4.6"/><rect x="342.56" y="441" width="4.6" height="4.6"/><rect x="343.82" y="440.94" width="4.6" height="4.6"/><rect x="345.09" y="440.76" width="4.6" height="4.6"/><rect x="346.34" y="440.51" width="4.6" height="4.6"/><rect x="347.62" y="440.23" width="4.6" height="4.6"/><rect x="348.89" y="439.92" width="4.6" height="4.6"/><rect x="350.17" y="439.54" width="4.6" height="4.6"/><rect x="351.43" y="439.09" width="4.6" height="4.6"/><rect x="352.69" y="438.57" width="4.6" height="4.6"/><rect x="353.94" y="437.95" width="4.6" height="4.6"/><rect x="355.2" y="437.16" width="4.6" height="4.6"/><rect x="356.46" y="436.02" width="4.6" height="4.6"/><rect x="357.71" y="434.69" width="4.6" height="4.6"/><rect x="358.98" y="433.42" width="4.6" height="4.6"/><rect x="360.25" y="432.22" width="4.6" height="4.6"/><rect x="361.51" y="431.01" width="4.6" height="4.6"/><rect x="362.78" y="429.77" width="4.6" height="4.6"/><rect x="364.05" y="428.46" width="4.6" height="4.6"/><rect x="365.3" y="427.06" width="4.6" height="4.6"/><rect x="366.56" y="425.51" width="4.6" height="4.6"/><rect x="367.83" y="423.91" width="4.6" height="4.6"/><rect x="369.08" y="422.36" width="4.6" height="4.6"/><rect x="370.34" y="420.89" width="4.6" height="4.6"/><rect x="371.6" y="419.38" width="4.6" height="4.6"/><rect x="372.85" y="417.7" width="4.6" height="4.6"/><rect x="374.12" y="415.69" width="4.6" height="4.6"/><rect x="375.38" y="413.43" width="4.6" height="4.6"/><rect x="376.63" y="411.08" width="4.6" height="4.6"/><rect x="377.88" y="408.82" width="4.6" height="4.6"/><rect x="379.15" y="406.81" width="4.6" height="4.6"/><rect x="380.4" y="404.76" width="4.6" height="4.6"/><rect x="381.66" y="401.75" width="4.6" height="4.6"/><rect x="382.92" y="397.66" width="4.6" height="4.6"/><rect x="384.18" y="393.6" width="4.6" height="4.6"/><rect x="385.43" y="387.97" width="4.6" height="4.6"/><rect x="386.69" y="379.96" width="4.6" height="4.6"/><rect x="387.94" y="373.32" width="4.6" height="4.6"/><rect x="389.19" y="369.58" width="4.6" height="4.6"/><rect x="390.44" y="367.19" width="4.6" height="4.6"/><rect x="391.7" y="365.27" width="4.6" height="4.6"/><rect x="392.96" y="363.66" width="4.6" height="4.6"/><rect x="394.22" y="362.33" width="4.6" height="4.6"/><rect x="395.48" y="361.27" width="4.6" height="4.6"/><rect x="396.75" y="360.42" width="4.6" height="4.6"/><rect x="398.02" y="359.73" width="4.6" height="4.6"/><rect x="399.29" y="359.15" width="4.6" height="4.6"/><rect x="400.57" y="358.69" width="4.6" height="4.6"/><rect x="401.86" y="358.28" width="4.6" height="4.6"/><rect x="403.13" y="357.94" width="4.6" height="4.6"/><rect x="404.38" y="357.67" width="4.6" height="4.6"/><rect x="405.67" y="357.46" width="4.6" height="4.6"/><rect x="406.93" y="357.28" width="4.6" height="4.6"/><rect x="408.19" y="357.12" width="4.6" height="4.6"/><rect x="409.46" y="357" width="4.6" height="4.6"/><rect x="410.73" y="356.93" width="4.6" height="4.6"/><rect x="412" y="356.93" width="4.6" height="4.6"/><rect x="413.27" y="357" width="4.6" height="4.6"/><rect x="414.54" y="357.11" width="4.6" height="4.6"/><rect x="415.81" y="357.26" width="4.6" height="4.6"/><rect x="417.07" y="357.43" width="4.6" height="4.6"/><rect x="418.35" y="357.62" width="4.6" height="4.6"/><rect x="419.63" y="357.9" width="4.6" height="4.6"/><rect x="420.9" y="358.25" width="4.6" height="4.6"/><rect x="422.15" y="358.63" width="4.6" height="4.6"/><rect x="423.43" y="359.03" width="4.6" height="4.6"/><rect x="424.7" y="359.45" width="4.6" height="4.6"/><rect x="425.97" y="359.9" width="4.6" height="4.6"/><rect x="427.22" y="360.38" width="4.6" height="4.6"/><rect x="428.5" y="360.9" width="4.6" height="4.6"/><rect x="429.78" y="361.45" width="4.6" height="4.6"/><rect x="431.04" y="362.03" width="4.6" height="4.6"/></g>
</svg></body></html>
